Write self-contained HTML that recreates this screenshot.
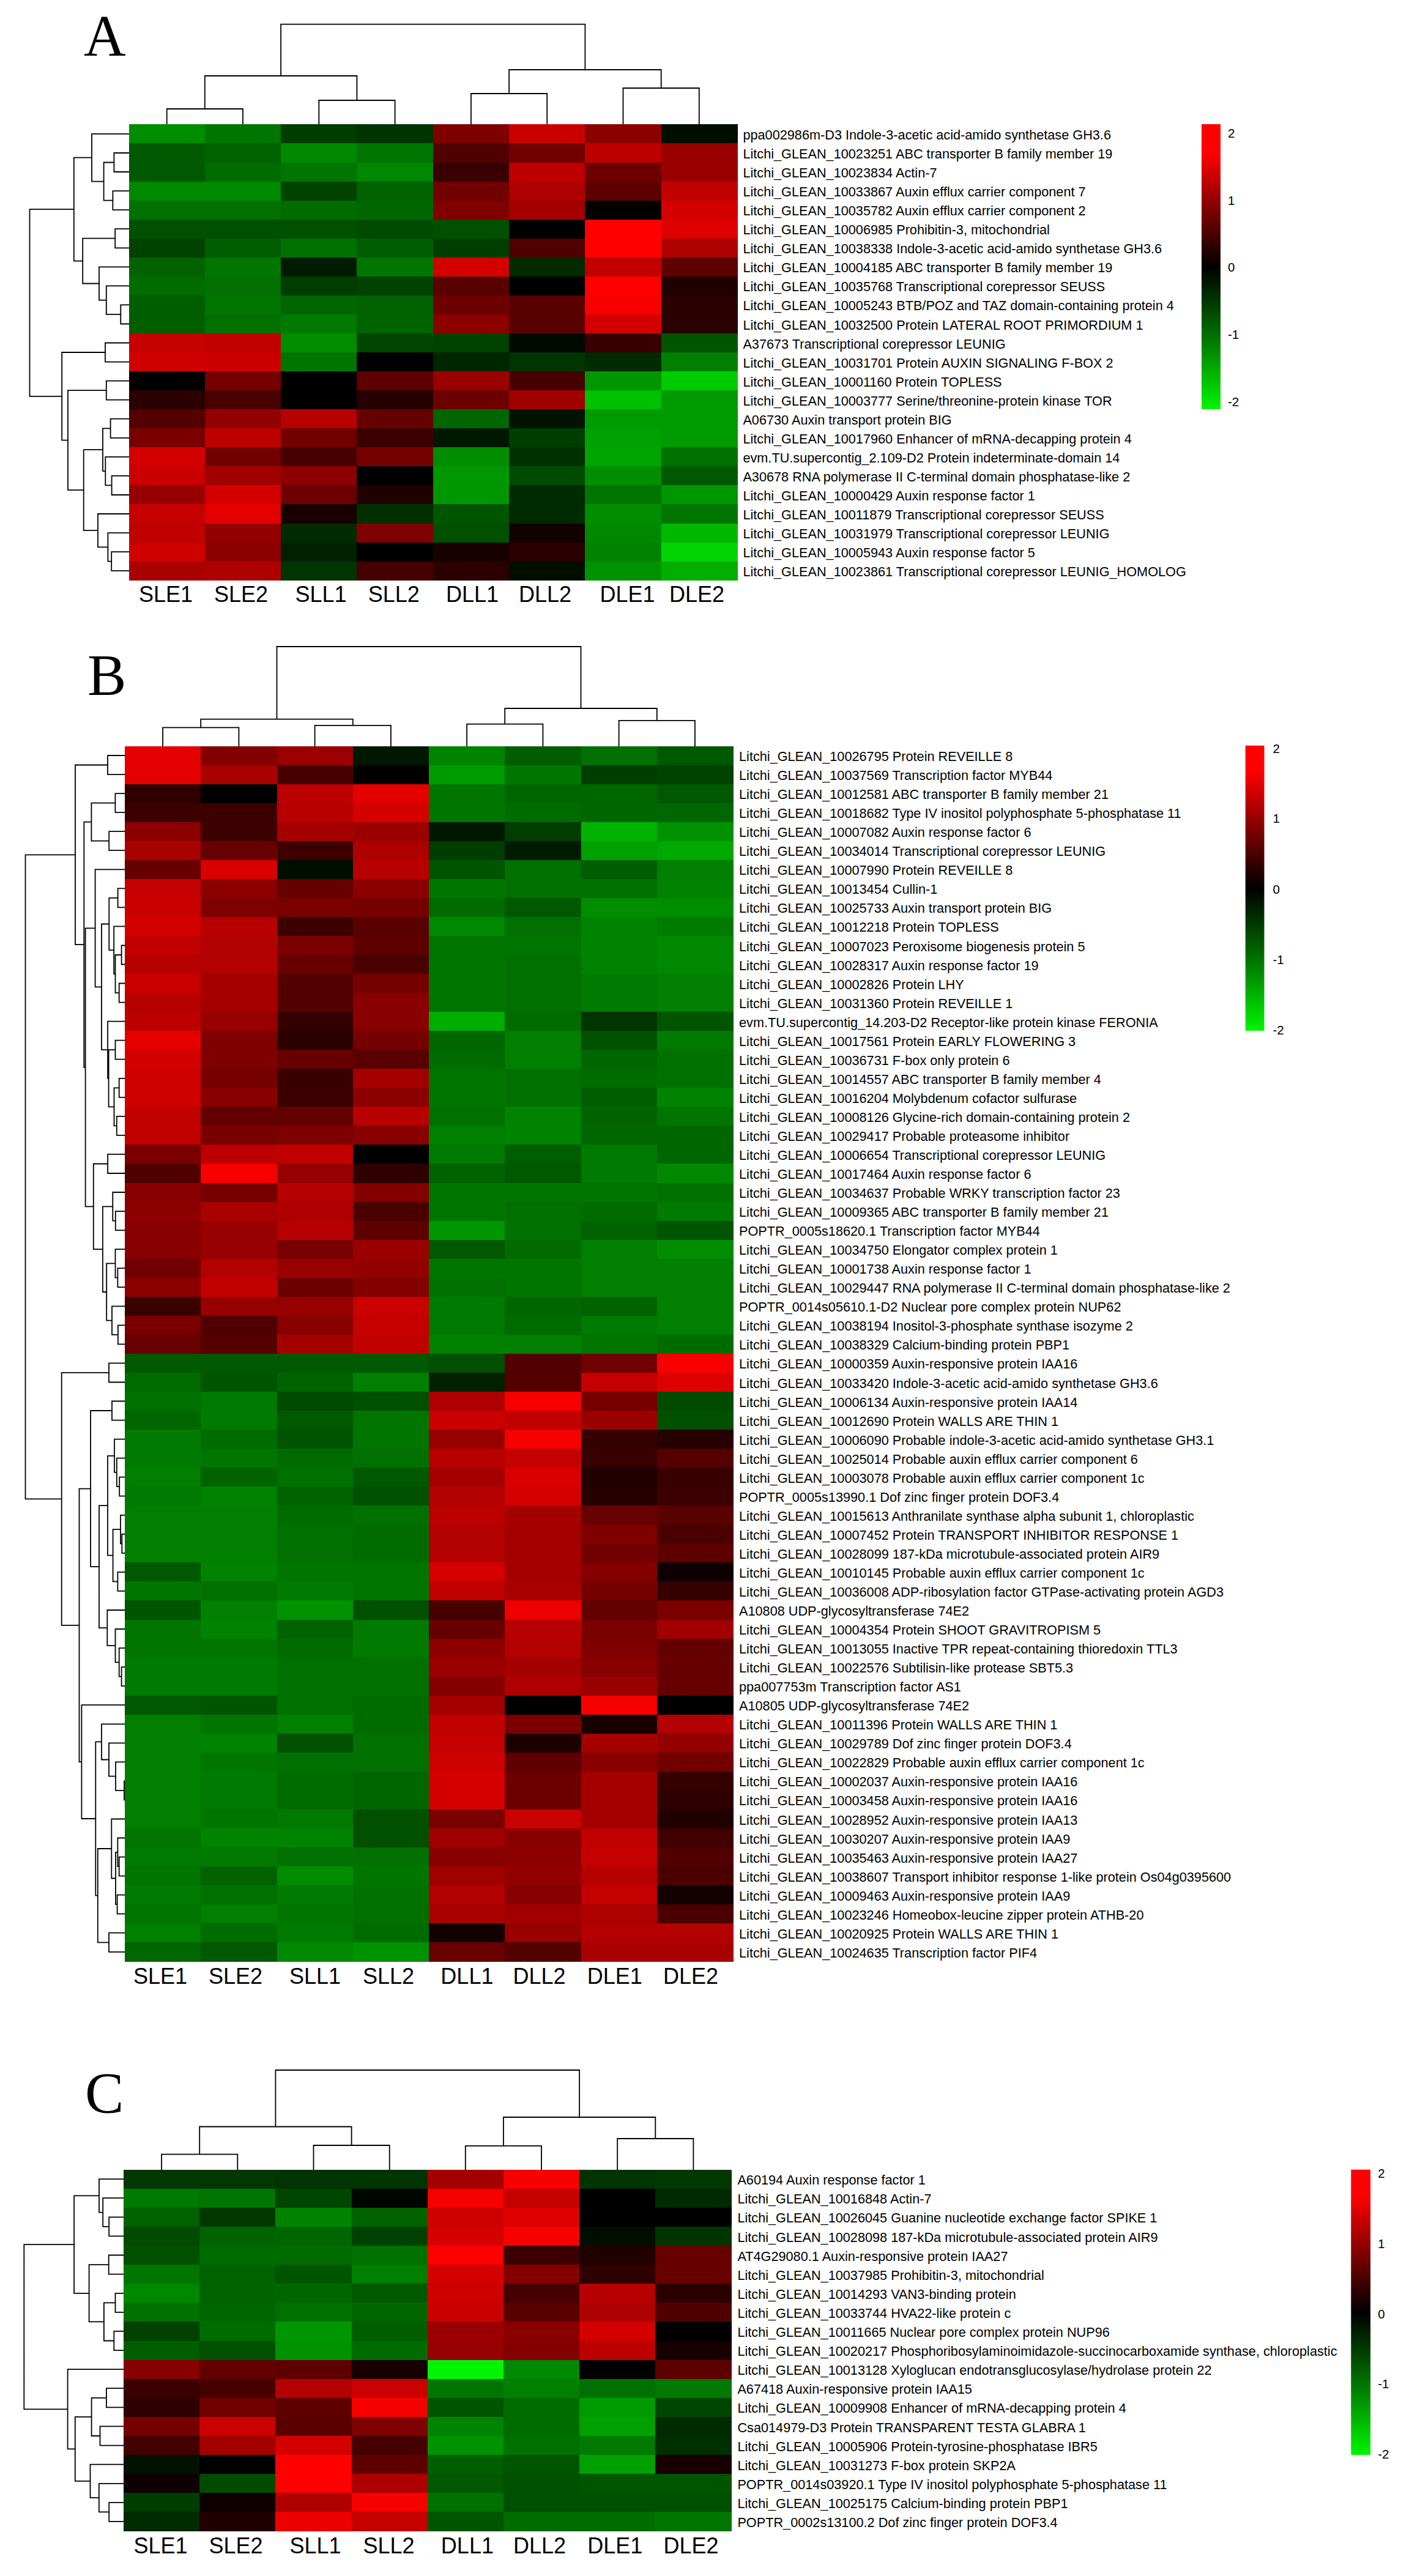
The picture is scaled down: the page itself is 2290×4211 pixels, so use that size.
<!DOCTYPE html>
<html><head><meta charset="utf-8"><title>Heatmaps</title>
<style>
html,body{margin:0;padding:0;background:#fff}
svg{display:block}
svg text{font-family:"Liberation Sans",Arial,sans-serif;fill:#000}
svg text.pl{font-family:"Liberation Serif","Times New Roman",serif}
</style></head><body>
<svg width="2290" height="4211" viewBox="0 0 2290 4211">
<rect width="2290" height="4211" fill="#fff"/>
<text x="137.0" y="91.0" class="pl" font-size="95">A</text>
<path d="M210.5 250.0H186.4V281.0H210.5M210.5 312.1H184.4V343.1H210.5M186.4 265.5H169.6V327.6H184.4M210.5 218.9H150.0V296.6H169.6M210.5 374.2H188.2V405.3H210.5M210.5 498.4H197.3V529.5H210.5M210.5 467.4H173.8V513.9H197.3M210.5 436.3H162.0V490.7H173.8M188.2 389.7H135.2V463.5H162.0M150.0 257.7H120.8V426.6H135.2M210.5 560.5H172.0V591.6H210.5M210.5 622.6H173.8V653.7H210.5M210.5 684.7H180.6V715.8H210.5M210.5 777.9H182.6V809.0H210.5M210.5 746.8H172.3V793.4H182.6M180.6 700.3H168.0V770.1H172.3M210.5 902.1H182.2V933.2H210.5M210.5 871.1H176.4V917.6H182.2M210.5 840.0H160.0V894.4H176.4M168.0 735.2H136.7V867.2H160.0M173.8 638.2H111.0V801.2H136.7M172.0 576.0H101.2V719.7H111.0M120.8 342.2H48.5V647.9H101.2" fill="none" stroke="#000" stroke-width="1.8" stroke-linejoin="miter" stroke-linecap="square"/>
<path d="M272.7 203.4V178.0H397.0V203.4M521.3 203.4V164.0H645.6V203.4M769.9 203.4V153.0H894.2V203.4M1018.5 203.4V144.0H1142.8V203.4M334.8 178.0V124.0H583.4V164.0M832.1 153.0V114.0H1080.7V144.0M459.1 124.0V39.7H956.4V114.0" fill="none" stroke="#000" stroke-width="1.8" stroke-linecap="square"/>
<g shape-rendering="crispEdges">
<rect x="210.50" y="203.40" width="124.91" height="31.65" fill="#008d00"/>
<rect x="334.81" y="203.40" width="124.91" height="31.65" fill="#007600"/>
<rect x="459.12" y="203.40" width="124.91" height="31.65" fill="#003d00"/>
<rect x="583.44" y="203.40" width="124.91" height="31.65" fill="#003400"/>
<rect x="707.75" y="203.40" width="124.91" height="31.65" fill="#7f0000"/>
<rect x="832.06" y="203.40" width="124.91" height="31.65" fill="#ca0000"/>
<rect x="956.38" y="203.40" width="124.91" height="31.65" fill="#8d0000"/>
<rect x="1080.69" y="203.40" width="124.91" height="31.65" fill="#000e00"/>
<rect x="210.50" y="234.45" width="124.91" height="31.65" fill="#005900"/>
<rect x="334.81" y="234.45" width="124.91" height="31.65" fill="#006300"/>
<rect x="459.12" y="234.45" width="124.91" height="31.65" fill="#008800"/>
<rect x="583.44" y="234.45" width="124.91" height="31.65" fill="#007600"/>
<rect x="707.75" y="234.45" width="124.91" height="31.65" fill="#500000"/>
<rect x="832.06" y="234.45" width="124.91" height="31.65" fill="#710000"/>
<rect x="956.38" y="234.45" width="124.91" height="31.65" fill="#bc0000"/>
<rect x="1080.69" y="234.45" width="124.91" height="31.65" fill="#9b0000"/>
<rect x="210.50" y="265.51" width="124.91" height="31.65" fill="#005900"/>
<rect x="334.81" y="265.51" width="124.91" height="31.65" fill="#006c00"/>
<rect x="459.12" y="265.51" width="124.91" height="31.65" fill="#007600"/>
<rect x="583.44" y="265.51" width="124.91" height="31.65" fill="#008800"/>
<rect x="707.75" y="265.51" width="124.91" height="31.65" fill="#380000"/>
<rect x="832.06" y="265.51" width="124.91" height="31.65" fill="#bc0000"/>
<rect x="956.38" y="265.51" width="124.91" height="31.65" fill="#6c0000"/>
<rect x="1080.69" y="265.51" width="124.91" height="31.65" fill="#9b0000"/>
<rect x="210.50" y="296.56" width="124.91" height="31.65" fill="#008800"/>
<rect x="334.81" y="296.56" width="124.91" height="31.65" fill="#008800"/>
<rect x="459.12" y="296.56" width="124.91" height="31.65" fill="#004200"/>
<rect x="583.44" y="296.56" width="124.91" height="31.65" fill="#006300"/>
<rect x="707.75" y="296.56" width="124.91" height="31.65" fill="#710000"/>
<rect x="832.06" y="296.56" width="124.91" height="31.65" fill="#ae0000"/>
<rect x="956.38" y="296.56" width="124.91" height="31.65" fill="#5e0000"/>
<rect x="1080.69" y="296.56" width="124.91" height="31.65" fill="#c10000"/>
<rect x="210.50" y="327.62" width="124.91" height="31.65" fill="#007100"/>
<rect x="334.81" y="327.62" width="124.91" height="31.65" fill="#007100"/>
<rect x="459.12" y="327.62" width="124.91" height="31.65" fill="#006c00"/>
<rect x="583.44" y="327.62" width="124.91" height="31.65" fill="#006700"/>
<rect x="707.75" y="327.62" width="124.91" height="31.65" fill="#7f0000"/>
<rect x="832.06" y="327.62" width="124.91" height="31.65" fill="#a40000"/>
<rect x="956.38" y="327.62" width="124.91" height="31.65" fill="#000000"/>
<rect x="1080.69" y="327.62" width="124.91" height="31.65" fill="#d40000"/>
<rect x="210.50" y="358.67" width="124.91" height="31.65" fill="#005000"/>
<rect x="334.81" y="358.67" width="124.91" height="31.65" fill="#005000"/>
<rect x="459.12" y="358.67" width="124.91" height="31.65" fill="#005000"/>
<rect x="583.44" y="358.67" width="124.91" height="31.65" fill="#004b00"/>
<rect x="707.75" y="358.67" width="124.91" height="31.65" fill="#005000"/>
<rect x="832.06" y="358.67" width="124.91" height="31.65" fill="#000000"/>
<rect x="956.38" y="358.67" width="124.91" height="31.65" fill="#ff0000"/>
<rect x="1080.69" y="358.67" width="124.91" height="31.65" fill="#dd0000"/>
<rect x="210.50" y="389.73" width="124.91" height="31.65" fill="#004200"/>
<rect x="334.81" y="389.73" width="124.91" height="31.65" fill="#005e00"/>
<rect x="459.12" y="389.73" width="124.91" height="31.65" fill="#007100"/>
<rect x="583.44" y="389.73" width="124.91" height="31.65" fill="#005e00"/>
<rect x="707.75" y="389.73" width="124.91" height="31.65" fill="#003d00"/>
<rect x="832.06" y="389.73" width="124.91" height="31.65" fill="#500000"/>
<rect x="956.38" y="389.73" width="124.91" height="31.65" fill="#ff0000"/>
<rect x="1080.69" y="389.73" width="124.91" height="31.65" fill="#ae0000"/>
<rect x="210.50" y="420.78" width="124.91" height="31.65" fill="#006300"/>
<rect x="334.81" y="420.78" width="124.91" height="31.65" fill="#007600"/>
<rect x="459.12" y="420.78" width="124.91" height="31.65" fill="#001c00"/>
<rect x="583.44" y="420.78" width="124.91" height="31.65" fill="#007600"/>
<rect x="707.75" y="420.78" width="124.91" height="31.65" fill="#d40000"/>
<rect x="832.06" y="420.78" width="124.91" height="31.65" fill="#002a00"/>
<rect x="956.38" y="420.78" width="124.91" height="31.65" fill="#c10000"/>
<rect x="1080.69" y="420.78" width="124.91" height="31.65" fill="#5e0000"/>
<rect x="210.50" y="451.83" width="124.91" height="31.65" fill="#006c00"/>
<rect x="334.81" y="451.83" width="124.91" height="31.65" fill="#007100"/>
<rect x="459.12" y="451.83" width="124.91" height="31.65" fill="#003d00"/>
<rect x="583.44" y="451.83" width="124.91" height="31.65" fill="#004200"/>
<rect x="707.75" y="451.83" width="124.91" height="31.65" fill="#590000"/>
<rect x="832.06" y="451.83" width="124.91" height="31.65" fill="#000000"/>
<rect x="956.38" y="451.83" width="124.91" height="31.65" fill="#ff0000"/>
<rect x="1080.69" y="451.83" width="124.91" height="31.65" fill="#210000"/>
<rect x="210.50" y="482.89" width="124.91" height="31.65" fill="#005e00"/>
<rect x="334.81" y="482.89" width="124.91" height="31.65" fill="#007600"/>
<rect x="459.12" y="482.89" width="124.91" height="31.65" fill="#006700"/>
<rect x="583.44" y="482.89" width="124.91" height="31.65" fill="#006300"/>
<rect x="707.75" y="482.89" width="124.91" height="31.65" fill="#6c0000"/>
<rect x="832.06" y="482.89" width="124.91" height="31.65" fill="#590000"/>
<rect x="956.38" y="482.89" width="124.91" height="31.65" fill="#f60000"/>
<rect x="1080.69" y="482.89" width="124.91" height="31.65" fill="#2a0000"/>
<rect x="210.50" y="513.94" width="124.91" height="31.65" fill="#005e00"/>
<rect x="334.81" y="513.94" width="124.91" height="31.65" fill="#007100"/>
<rect x="459.12" y="513.94" width="124.91" height="31.65" fill="#007a00"/>
<rect x="583.44" y="513.94" width="124.91" height="31.65" fill="#006300"/>
<rect x="707.75" y="513.94" width="124.91" height="31.65" fill="#8d0000"/>
<rect x="832.06" y="513.94" width="124.91" height="31.65" fill="#590000"/>
<rect x="956.38" y="513.94" width="124.91" height="31.65" fill="#d40000"/>
<rect x="1080.69" y="513.94" width="124.91" height="31.65" fill="#2a0000"/>
<rect x="210.50" y="545.00" width="124.91" height="31.65" fill="#c50000"/>
<rect x="334.81" y="545.00" width="124.91" height="31.65" fill="#c10000"/>
<rect x="459.12" y="545.00" width="124.91" height="31.65" fill="#008d00"/>
<rect x="583.44" y="545.00" width="124.91" height="31.65" fill="#004600"/>
<rect x="707.75" y="545.00" width="124.91" height="31.65" fill="#004200"/>
<rect x="832.06" y="545.00" width="124.91" height="31.65" fill="#000900"/>
<rect x="956.38" y="545.00" width="124.91" height="31.65" fill="#380000"/>
<rect x="1080.69" y="545.00" width="124.91" height="31.65" fill="#005500"/>
<rect x="210.50" y="576.05" width="124.91" height="31.65" fill="#cf0000"/>
<rect x="334.81" y="576.05" width="124.91" height="31.65" fill="#ca0000"/>
<rect x="459.12" y="576.05" width="124.91" height="31.65" fill="#007600"/>
<rect x="583.44" y="576.05" width="124.91" height="31.65" fill="#000000"/>
<rect x="707.75" y="576.05" width="124.91" height="31.65" fill="#002600"/>
<rect x="832.06" y="576.05" width="124.91" height="31.65" fill="#003400"/>
<rect x="956.38" y="576.05" width="124.91" height="31.65" fill="#002a00"/>
<rect x="1080.69" y="576.05" width="124.91" height="31.65" fill="#007f00"/>
<rect x="210.50" y="607.10" width="124.91" height="31.65" fill="#000000"/>
<rect x="334.81" y="607.10" width="124.91" height="31.65" fill="#760000"/>
<rect x="459.12" y="607.10" width="124.91" height="31.65" fill="#000000"/>
<rect x="583.44" y="607.10" width="124.91" height="31.65" fill="#5e0000"/>
<rect x="707.75" y="607.10" width="124.91" height="31.65" fill="#9b0000"/>
<rect x="832.06" y="607.10" width="124.91" height="31.65" fill="#460000"/>
<rect x="956.38" y="607.10" width="124.91" height="31.65" fill="#009600"/>
<rect x="1080.69" y="607.10" width="124.91" height="31.65" fill="#00ca00"/>
<rect x="210.50" y="638.16" width="124.91" height="31.65" fill="#2a0000"/>
<rect x="334.81" y="638.16" width="124.91" height="31.65" fill="#4b0000"/>
<rect x="459.12" y="638.16" width="124.91" height="31.65" fill="#000000"/>
<rect x="583.44" y="638.16" width="124.91" height="31.65" fill="#260000"/>
<rect x="707.75" y="638.16" width="124.91" height="31.65" fill="#6c0000"/>
<rect x="832.06" y="638.16" width="124.91" height="31.65" fill="#a00000"/>
<rect x="956.38" y="638.16" width="124.91" height="31.65" fill="#00c100"/>
<rect x="1080.69" y="638.16" width="124.91" height="31.65" fill="#009b00"/>
<rect x="210.50" y="669.21" width="124.91" height="31.65" fill="#550000"/>
<rect x="334.81" y="669.21" width="124.91" height="31.65" fill="#920000"/>
<rect x="459.12" y="669.21" width="124.91" height="31.65" fill="#b70000"/>
<rect x="583.44" y="669.21" width="124.91" height="31.65" fill="#670000"/>
<rect x="707.75" y="669.21" width="124.91" height="31.65" fill="#006700"/>
<rect x="832.06" y="669.21" width="124.91" height="31.65" fill="#001300"/>
<rect x="956.38" y="669.21" width="124.91" height="31.65" fill="#009b00"/>
<rect x="1080.69" y="669.21" width="124.91" height="31.65" fill="#009b00"/>
<rect x="210.50" y="700.27" width="124.91" height="31.65" fill="#7a0000"/>
<rect x="334.81" y="700.27" width="124.91" height="31.65" fill="#bc0000"/>
<rect x="459.12" y="700.27" width="124.91" height="31.65" fill="#710000"/>
<rect x="583.44" y="700.27" width="124.91" height="31.65" fill="#3d0000"/>
<rect x="707.75" y="700.27" width="124.91" height="31.65" fill="#001800"/>
<rect x="832.06" y="700.27" width="124.91" height="31.65" fill="#003d00"/>
<rect x="956.38" y="700.27" width="124.91" height="31.65" fill="#00a000"/>
<rect x="1080.69" y="700.27" width="124.91" height="31.65" fill="#009b00"/>
<rect x="210.50" y="731.32" width="124.91" height="31.65" fill="#d40000"/>
<rect x="334.81" y="731.32" width="124.91" height="31.65" fill="#710000"/>
<rect x="459.12" y="731.32" width="124.91" height="31.65" fill="#460000"/>
<rect x="583.44" y="731.32" width="124.91" height="31.65" fill="#760000"/>
<rect x="707.75" y="731.32" width="124.91" height="31.65" fill="#008d00"/>
<rect x="832.06" y="731.32" width="124.91" height="31.65" fill="#002f00"/>
<rect x="956.38" y="731.32" width="124.91" height="31.65" fill="#00a400"/>
<rect x="1080.69" y="731.32" width="124.91" height="31.65" fill="#007100"/>
<rect x="210.50" y="762.38" width="124.91" height="31.65" fill="#ca0000"/>
<rect x="334.81" y="762.38" width="124.91" height="31.65" fill="#a00000"/>
<rect x="459.12" y="762.38" width="124.91" height="31.65" fill="#8d0000"/>
<rect x="583.44" y="762.38" width="124.91" height="31.65" fill="#000000"/>
<rect x="707.75" y="762.38" width="124.91" height="31.65" fill="#009600"/>
<rect x="832.06" y="762.38" width="124.91" height="31.65" fill="#004b00"/>
<rect x="956.38" y="762.38" width="124.91" height="31.65" fill="#008d00"/>
<rect x="1080.69" y="762.38" width="124.91" height="31.65" fill="#005900"/>
<rect x="210.50" y="793.43" width="124.91" height="31.65" fill="#960000"/>
<rect x="334.81" y="793.43" width="124.91" height="31.65" fill="#d40000"/>
<rect x="459.12" y="793.43" width="124.91" height="31.65" fill="#6c0000"/>
<rect x="583.44" y="793.43" width="124.91" height="31.65" fill="#210000"/>
<rect x="707.75" y="793.43" width="124.91" height="31.65" fill="#009600"/>
<rect x="832.06" y="793.43" width="124.91" height="31.65" fill="#002a00"/>
<rect x="956.38" y="793.43" width="124.91" height="31.65" fill="#007600"/>
<rect x="1080.69" y="793.43" width="124.91" height="31.65" fill="#009600"/>
<rect x="210.50" y="824.48" width="124.91" height="31.65" fill="#c50000"/>
<rect x="334.81" y="824.48" width="124.91" height="31.65" fill="#e50000"/>
<rect x="459.12" y="824.48" width="124.91" height="31.65" fill="#180000"/>
<rect x="583.44" y="824.48" width="124.91" height="31.65" fill="#002f00"/>
<rect x="707.75" y="824.48" width="124.91" height="31.65" fill="#005500"/>
<rect x="832.06" y="824.48" width="124.91" height="31.65" fill="#002a00"/>
<rect x="956.38" y="824.48" width="124.91" height="31.65" fill="#008d00"/>
<rect x="1080.69" y="824.48" width="124.91" height="31.65" fill="#007600"/>
<rect x="210.50" y="855.54" width="124.91" height="31.65" fill="#c10000"/>
<rect x="334.81" y="855.54" width="124.91" height="31.65" fill="#920000"/>
<rect x="459.12" y="855.54" width="124.91" height="31.65" fill="#002a00"/>
<rect x="583.44" y="855.54" width="124.91" height="31.65" fill="#7f0000"/>
<rect x="707.75" y="855.54" width="124.91" height="31.65" fill="#005000"/>
<rect x="832.06" y="855.54" width="124.91" height="31.65" fill="#130000"/>
<rect x="956.38" y="855.54" width="124.91" height="31.65" fill="#008800"/>
<rect x="1080.69" y="855.54" width="124.91" height="31.65" fill="#00b700"/>
<rect x="210.50" y="886.59" width="124.91" height="31.65" fill="#cf0000"/>
<rect x="334.81" y="886.59" width="124.91" height="31.65" fill="#8d0000"/>
<rect x="459.12" y="886.59" width="124.91" height="31.65" fill="#002100"/>
<rect x="583.44" y="886.59" width="124.91" height="31.65" fill="#000000"/>
<rect x="707.75" y="886.59" width="124.91" height="31.65" fill="#180000"/>
<rect x="832.06" y="886.59" width="124.91" height="31.65" fill="#2a0000"/>
<rect x="956.38" y="886.59" width="124.91" height="31.65" fill="#008400"/>
<rect x="1080.69" y="886.59" width="124.91" height="31.65" fill="#00d400"/>
<rect x="210.50" y="917.65" width="124.91" height="31.65" fill="#a90000"/>
<rect x="334.81" y="917.65" width="124.91" height="31.65" fill="#ae0000"/>
<rect x="459.12" y="917.65" width="124.91" height="31.65" fill="#003400"/>
<rect x="583.44" y="917.65" width="124.91" height="31.65" fill="#460000"/>
<rect x="707.75" y="917.65" width="124.91" height="31.65" fill="#2a0000"/>
<rect x="832.06" y="917.65" width="124.91" height="31.65" fill="#000e00"/>
<rect x="956.38" y="917.65" width="124.91" height="31.65" fill="#009200"/>
<rect x="1080.69" y="917.65" width="124.91" height="31.65" fill="#00ae00"/>
</g>
<g font-size="21.7" class="rl">
<text x="1214.4" y="227.9">ppa002986m-D3 Indole-3-acetic acid-amido synthetase GH3.6</text>
<text x="1214.4" y="259.0">Litchi_GLEAN_10023251 ABC transporter B family member 19</text>
<text x="1214.4" y="290.0">Litchi_GLEAN_10023834 Actin-7</text>
<text x="1214.4" y="321.1">Litchi_GLEAN_10033867 Auxin efflux carrier component 7</text>
<text x="1214.4" y="352.1">Litchi_GLEAN_10035782 Auxin efflux carrier component 2</text>
<text x="1214.4" y="383.2">Litchi_GLEAN_10006985 Prohibitin-3, mitochondrial</text>
<text x="1214.4" y="414.3">Litchi_GLEAN_10038338 Indole-3-acetic acid-amido synthetase GH3.6</text>
<text x="1214.4" y="445.3">Litchi_GLEAN_10004185 ABC transporter B family member 19</text>
<text x="1214.4" y="476.4">Litchi_GLEAN_10035768 Transcriptional corepressor SEUSS</text>
<text x="1214.4" y="507.4">Litchi_GLEAN_10005243 BTB/POZ and TAZ domain-containing protein 4</text>
<text x="1214.4" y="538.5">Litchi_GLEAN_10032500 Protein LATERAL ROOT PRIMORDIUM 1</text>
<text x="1214.4" y="569.5">A37673 Transcriptional corepressor LEUNIG</text>
<text x="1214.4" y="600.6">Litchi_GLEAN_10031701 Protein AUXIN SIGNALING F-BOX 2</text>
<text x="1214.4" y="631.6">Litchi_GLEAN_10001160 Protein TOPLESS</text>
<text x="1214.4" y="662.7">Litchi_GLEAN_10003777 Serine/threonine-protein kinase TOR</text>
<text x="1214.4" y="693.7">A06730 Auxin transport protein BIG</text>
<text x="1214.4" y="724.8">Litchi_GLEAN_10017960 Enhancer of mRNA-decapping protein 4</text>
<text x="1214.4" y="755.9">evm.TU.supercontig_2.109-D2 Protein indeterminate-domain 14</text>
<text x="1214.4" y="786.9">A30678 RNA polymerase II C-terminal domain phosphatase-like 2</text>
<text x="1214.4" y="818.0">Litchi_GLEAN_10000429 Auxin response factor 1</text>
<text x="1214.4" y="849.0">Litchi_GLEAN_10011879 Transcriptional corepressor SEUSS</text>
<text x="1214.4" y="880.1">Litchi_GLEAN_10031979 Transcriptional corepressor LEUNIG</text>
<text x="1214.4" y="911.1">Litchi_GLEAN_10005943 Auxin response factor 5</text>
<text x="1214.4" y="942.2">Litchi_GLEAN_10023861 Transcriptional corepressor LEUNIG_HOMOLOG</text>
</g>
<g font-size="36" text-anchor="middle">
<text x="271.0" y="983.8">SLE1</text>
<text x="394.0" y="983.8">SLE2</text>
<text x="524.5" y="983.8">SLL1</text>
<text x="643.7" y="983.8">SLL2</text>
<text x="772.0" y="983.8">DLL1</text>
<text x="891.0" y="983.8">DLL2</text>
<text x="1025.6" y="983.8">DLE1</text>
<text x="1139.0" y="983.8">DLE2</text>
</g>
<defs><linearGradient id="cb1" x1="0" y1="0" x2="0" y2="1"><stop offset="0" stop-color="#ff0000"/><stop offset="0.1" stop-color="#ff0000"/><stop offset="0.5" stop-color="#000000"/><stop offset="0.75" stop-color="#007300"/><stop offset="1" stop-color="#00f500"/></linearGradient></defs>
<rect x="1964.0" y="203.0" width="31.0" height="466.0" fill="url(#cb1)"/>
<g font-size="20.5">
<text x="2007.0" y="225.3">2</text>
<text x="2007.0" y="335.3">1</text>
<text x="2007.0" y="444.3">0</text>
<text x="2007.0" y="554.3">-1</text>
<text x="2007.0" y="664.3">-2</text>
</g>
<text x="143.0" y="1135.6" class="pl" font-size="95">B</text>
<path d="M204.0 1235.0H176.0V1266.1H204.0M204.0 1297.1H188.4V1328.2H204.0M204.0 1359.2H178.2V1390.2H204.0M188.4 1312.6H149.4V1374.7H178.2M204.0 1452.3H192.6V1483.4H204.0M204.0 1545.5H198.6V1576.5H204.0M204.0 1607.5H194.7V1638.6H204.0M198.6 1561.0H188.5V1623.1H194.7M204.0 1514.4H186.2V1592.0H188.5M192.6 1467.8H178.3V1553.2H186.2M204.0 1700.7H188.5V1731.7H204.0M204.0 1762.8H194.7V1793.8H204.0M204.0 1824.9H190.8V1855.9H204.0M194.7 1778.3H186.5V1840.4H190.8M188.5 1716.2H177.6V1809.3H186.5M204.0 1669.6H176.1V1762.8H177.6M178.3 1510.5H166.0V1716.2H176.1M204.0 1421.3H155.6V1613.4H166.0M204.0 1886.9H176.1V1918.0H204.0M204.0 1980.1H188.8V2011.1H204.0M204.0 1949.0H184.3V1995.6H188.8M204.0 2073.2H192.4V2104.2H204.0M204.0 2042.2H188.5V2088.7H192.4M204.0 2166.3H192.9V2197.4H204.0M204.0 2135.3H183.0V2181.9H192.9M188.5 2065.4H174.2V2158.6H183.0M184.3 1972.3H167.9V2112.0H174.2M176.1 1902.5H152.8V2042.2H167.9M155.6 1517.3H139.6V1972.3H152.8M149.4 1343.7H137.3V1744.8H139.6M176.0 1250.5H123.0V1544.2H137.3M204.0 2228.4H178.0V2259.5H204.0M204.0 2290.5H183.0V2321.6H204.0M204.0 2414.7H195.2V2445.7H204.0M204.0 2383.6H190.8V2430.2H195.2M204.0 2352.6H187.0V2406.9H190.8M204.0 2507.8H199.3V2538.9H204.0M204.0 2476.8H197.0V2523.3H199.3M204.0 2569.9H192.4V2600.9H204.0M197.0 2500.1H184.6V2585.4H192.4M187.0 2379.8H176.0V2542.7H184.6M204.0 2725.1H198.6V2756.2H204.0M204.0 2694.1H194.7V2740.6H198.6M204.0 2663.0H188.5V2717.4H194.7M204.0 2632.0H175.3V2690.2H188.5M176.0 2461.2H162.0V2661.1H175.3M183.0 2306.0H148.1V2561.2H162.0M204.0 2911.4H203.0V2942.4H204.0M204.0 2880.3H189.0V2926.9H203.0M204.0 2849.3H178.0V2903.6H189.0M204.0 2818.3H166.0V2876.5H178.0M204.0 3035.6H194.7V3066.6H204.0M204.0 3004.5H192.4V3051.1H194.7M204.0 3097.6H191.6V3128.7H204.0M192.4 3027.8H189.0V3113.2H191.6M204.0 2973.5H182.3V3070.5H189.0M204.0 3159.7H178.0V3190.8H204.0M182.3 3022.0H159.8V3175.3H178.0M166.0 2847.4H156.3V3098.6H159.8M204.0 2787.2H133.4V2973.0H156.3M148.1 2433.6H129.5V2880.1H133.4M178.0 2243.9H100.7V2656.8H129.5M123.0 1397.4H41.5V2450.4H100.7" fill="none" stroke="#000" stroke-width="1.8" stroke-linejoin="miter" stroke-linecap="square"/>
<path d="M266.1 1219.5V1189.4H390.4V1219.5M514.6 1219.5V1185.8H638.9V1219.5M763.1 1219.5V1183.6H887.4V1219.5M1011.6 1219.5V1177.8H1135.9V1219.5M328.2 1189.4V1175.6H576.8V1185.8M825.2 1183.6V1158.0H1073.8V1177.8M452.5 1175.6V1057.0H949.5V1158.0" fill="none" stroke="#000" stroke-width="1.8" stroke-linecap="square"/>
<g shape-rendering="crispEdges">
<rect x="204.00" y="1219.50" width="124.85" height="31.64" fill="#e50000"/>
<rect x="328.25" y="1219.50" width="124.85" height="31.64" fill="#840000"/>
<rect x="452.50" y="1219.50" width="124.85" height="31.64" fill="#9b0000"/>
<rect x="576.75" y="1219.50" width="124.85" height="31.64" fill="#001800"/>
<rect x="701.00" y="1219.50" width="124.85" height="31.64" fill="#008400"/>
<rect x="825.25" y="1219.50" width="124.85" height="31.64" fill="#005e00"/>
<rect x="949.50" y="1219.50" width="124.85" height="31.64" fill="#007100"/>
<rect x="1073.75" y="1219.50" width="124.85" height="31.64" fill="#005900"/>
<rect x="204.00" y="1250.54" width="124.85" height="31.64" fill="#e50000"/>
<rect x="328.25" y="1250.54" width="124.85" height="31.64" fill="#a90000"/>
<rect x="452.50" y="1250.54" width="124.85" height="31.64" fill="#460000"/>
<rect x="576.75" y="1250.54" width="124.85" height="31.64" fill="#000000"/>
<rect x="701.00" y="1250.54" width="124.85" height="31.64" fill="#009b00"/>
<rect x="825.25" y="1250.54" width="124.85" height="31.64" fill="#007600"/>
<rect x="949.50" y="1250.54" width="124.85" height="31.64" fill="#003d00"/>
<rect x="1073.75" y="1250.54" width="124.85" height="31.64" fill="#004200"/>
<rect x="204.00" y="1281.59" width="124.85" height="31.64" fill="#2f0000"/>
<rect x="328.25" y="1281.59" width="124.85" height="31.64" fill="#000000"/>
<rect x="452.50" y="1281.59" width="124.85" height="31.64" fill="#bc0000"/>
<rect x="576.75" y="1281.59" width="124.85" height="31.64" fill="#e50000"/>
<rect x="701.00" y="1281.59" width="124.85" height="31.64" fill="#007600"/>
<rect x="825.25" y="1281.59" width="124.85" height="31.64" fill="#006700"/>
<rect x="949.50" y="1281.59" width="124.85" height="31.64" fill="#006700"/>
<rect x="1073.75" y="1281.59" width="124.85" height="31.64" fill="#005900"/>
<rect x="204.00" y="1312.63" width="124.85" height="31.64" fill="#3d0000"/>
<rect x="328.25" y="1312.63" width="124.85" height="31.64" fill="#3d0000"/>
<rect x="452.50" y="1312.63" width="124.85" height="31.64" fill="#b70000"/>
<rect x="576.75" y="1312.63" width="124.85" height="31.64" fill="#d40000"/>
<rect x="701.00" y="1312.63" width="124.85" height="31.64" fill="#007600"/>
<rect x="825.25" y="1312.63" width="124.85" height="31.64" fill="#006c00"/>
<rect x="949.50" y="1312.63" width="124.85" height="31.64" fill="#006700"/>
<rect x="1073.75" y="1312.63" width="124.85" height="31.64" fill="#006700"/>
<rect x="204.00" y="1343.67" width="124.85" height="31.64" fill="#8d0000"/>
<rect x="328.25" y="1343.67" width="124.85" height="31.64" fill="#3d0000"/>
<rect x="452.50" y="1343.67" width="124.85" height="31.64" fill="#a40000"/>
<rect x="576.75" y="1343.67" width="124.85" height="31.64" fill="#9b0000"/>
<rect x="701.00" y="1343.67" width="124.85" height="31.64" fill="#001800"/>
<rect x="825.25" y="1343.67" width="124.85" height="31.64" fill="#003d00"/>
<rect x="949.50" y="1343.67" width="124.85" height="31.64" fill="#00b300"/>
<rect x="1073.75" y="1343.67" width="124.85" height="31.64" fill="#009200"/>
<rect x="204.00" y="1374.72" width="124.85" height="31.64" fill="#a90000"/>
<rect x="328.25" y="1374.72" width="124.85" height="31.64" fill="#670000"/>
<rect x="452.50" y="1374.72" width="124.85" height="31.64" fill="#3d0000"/>
<rect x="576.75" y="1374.72" width="124.85" height="31.64" fill="#ae0000"/>
<rect x="701.00" y="1374.72" width="124.85" height="31.64" fill="#003d00"/>
<rect x="825.25" y="1374.72" width="124.85" height="31.64" fill="#001c00"/>
<rect x="949.50" y="1374.72" width="124.85" height="31.64" fill="#00a000"/>
<rect x="1073.75" y="1374.72" width="124.85" height="31.64" fill="#00a900"/>
<rect x="204.00" y="1405.76" width="124.85" height="31.64" fill="#670000"/>
<rect x="328.25" y="1405.76" width="124.85" height="31.64" fill="#d80000"/>
<rect x="452.50" y="1405.76" width="124.85" height="31.64" fill="#000e00"/>
<rect x="576.75" y="1405.76" width="124.85" height="31.64" fill="#b70000"/>
<rect x="701.00" y="1405.76" width="124.85" height="31.64" fill="#005500"/>
<rect x="825.25" y="1405.76" width="124.85" height="31.64" fill="#007100"/>
<rect x="949.50" y="1405.76" width="124.85" height="31.64" fill="#005e00"/>
<rect x="1073.75" y="1405.76" width="124.85" height="31.64" fill="#007f00"/>
<rect x="204.00" y="1436.81" width="124.85" height="31.64" fill="#c50000"/>
<rect x="328.25" y="1436.81" width="124.85" height="31.64" fill="#8d0000"/>
<rect x="452.50" y="1436.81" width="124.85" height="31.64" fill="#670000"/>
<rect x="576.75" y="1436.81" width="124.85" height="31.64" fill="#8d0000"/>
<rect x="701.00" y="1436.81" width="124.85" height="31.64" fill="#007600"/>
<rect x="825.25" y="1436.81" width="124.85" height="31.64" fill="#007100"/>
<rect x="949.50" y="1436.81" width="124.85" height="31.64" fill="#007100"/>
<rect x="1073.75" y="1436.81" width="124.85" height="31.64" fill="#008400"/>
<rect x="204.00" y="1467.85" width="124.85" height="31.64" fill="#ca0000"/>
<rect x="328.25" y="1467.85" width="124.85" height="31.64" fill="#7f0000"/>
<rect x="452.50" y="1467.85" width="124.85" height="31.64" fill="#7a0000"/>
<rect x="576.75" y="1467.85" width="124.85" height="31.64" fill="#760000"/>
<rect x="701.00" y="1467.85" width="124.85" height="31.64" fill="#006c00"/>
<rect x="825.25" y="1467.85" width="124.85" height="31.64" fill="#005900"/>
<rect x="949.50" y="1467.85" width="124.85" height="31.64" fill="#008d00"/>
<rect x="1073.75" y="1467.85" width="124.85" height="31.64" fill="#008d00"/>
<rect x="204.00" y="1498.89" width="124.85" height="31.64" fill="#d40000"/>
<rect x="328.25" y="1498.89" width="124.85" height="31.64" fill="#b70000"/>
<rect x="452.50" y="1498.89" width="124.85" height="31.64" fill="#3d0000"/>
<rect x="576.75" y="1498.89" width="124.85" height="31.64" fill="#590000"/>
<rect x="701.00" y="1498.89" width="124.85" height="31.64" fill="#008800"/>
<rect x="825.25" y="1498.89" width="124.85" height="31.64" fill="#007100"/>
<rect x="949.50" y="1498.89" width="124.85" height="31.64" fill="#008400"/>
<rect x="1073.75" y="1498.89" width="124.85" height="31.64" fill="#007a00"/>
<rect x="204.00" y="1529.94" width="124.85" height="31.64" fill="#c10000"/>
<rect x="328.25" y="1529.94" width="124.85" height="31.64" fill="#b30000"/>
<rect x="452.50" y="1529.94" width="124.85" height="31.64" fill="#7a0000"/>
<rect x="576.75" y="1529.94" width="124.85" height="31.64" fill="#5e0000"/>
<rect x="701.00" y="1529.94" width="124.85" height="31.64" fill="#007600"/>
<rect x="825.25" y="1529.94" width="124.85" height="31.64" fill="#007600"/>
<rect x="949.50" y="1529.94" width="124.85" height="31.64" fill="#008400"/>
<rect x="1073.75" y="1529.94" width="124.85" height="31.64" fill="#008800"/>
<rect x="204.00" y="1560.98" width="124.85" height="31.64" fill="#b70000"/>
<rect x="328.25" y="1560.98" width="124.85" height="31.64" fill="#b30000"/>
<rect x="452.50" y="1560.98" width="124.85" height="31.64" fill="#670000"/>
<rect x="576.75" y="1560.98" width="124.85" height="31.64" fill="#4b0000"/>
<rect x="701.00" y="1560.98" width="124.85" height="31.64" fill="#007600"/>
<rect x="825.25" y="1560.98" width="124.85" height="31.64" fill="#007100"/>
<rect x="949.50" y="1560.98" width="124.85" height="31.64" fill="#008400"/>
<rect x="1073.75" y="1560.98" width="124.85" height="31.64" fill="#008800"/>
<rect x="204.00" y="1592.03" width="124.85" height="31.64" fill="#ca0000"/>
<rect x="328.25" y="1592.03" width="124.85" height="31.64" fill="#a40000"/>
<rect x="452.50" y="1592.03" width="124.85" height="31.64" fill="#550000"/>
<rect x="576.75" y="1592.03" width="124.85" height="31.64" fill="#760000"/>
<rect x="701.00" y="1592.03" width="124.85" height="31.64" fill="#007600"/>
<rect x="825.25" y="1592.03" width="124.85" height="31.64" fill="#007100"/>
<rect x="949.50" y="1592.03" width="124.85" height="31.64" fill="#007a00"/>
<rect x="1073.75" y="1592.03" width="124.85" height="31.64" fill="#007f00"/>
<rect x="204.00" y="1623.07" width="124.85" height="31.64" fill="#b70000"/>
<rect x="328.25" y="1623.07" width="124.85" height="31.64" fill="#a40000"/>
<rect x="452.50" y="1623.07" width="124.85" height="31.64" fill="#550000"/>
<rect x="576.75" y="1623.07" width="124.85" height="31.64" fill="#880000"/>
<rect x="701.00" y="1623.07" width="124.85" height="31.64" fill="#007600"/>
<rect x="825.25" y="1623.07" width="124.85" height="31.64" fill="#007100"/>
<rect x="949.50" y="1623.07" width="124.85" height="31.64" fill="#007a00"/>
<rect x="1073.75" y="1623.07" width="124.85" height="31.64" fill="#007f00"/>
<rect x="204.00" y="1654.11" width="124.85" height="31.64" fill="#bc0000"/>
<rect x="328.25" y="1654.11" width="124.85" height="31.64" fill="#960000"/>
<rect x="452.50" y="1654.11" width="124.85" height="31.64" fill="#340000"/>
<rect x="576.75" y="1654.11" width="124.85" height="31.64" fill="#880000"/>
<rect x="701.00" y="1654.11" width="124.85" height="31.64" fill="#00ae00"/>
<rect x="825.25" y="1654.11" width="124.85" height="31.64" fill="#006c00"/>
<rect x="949.50" y="1654.11" width="124.85" height="31.64" fill="#003400"/>
<rect x="1073.75" y="1654.11" width="124.85" height="31.64" fill="#005500"/>
<rect x="204.00" y="1685.16" width="124.85" height="31.64" fill="#e50000"/>
<rect x="328.25" y="1685.16" width="124.85" height="31.64" fill="#7f0000"/>
<rect x="452.50" y="1685.16" width="124.85" height="31.64" fill="#2a0000"/>
<rect x="576.75" y="1685.16" width="124.85" height="31.64" fill="#760000"/>
<rect x="701.00" y="1685.16" width="124.85" height="31.64" fill="#006700"/>
<rect x="825.25" y="1685.16" width="124.85" height="31.64" fill="#007f00"/>
<rect x="949.50" y="1685.16" width="124.85" height="31.64" fill="#005000"/>
<rect x="1073.75" y="1685.16" width="124.85" height="31.64" fill="#007a00"/>
<rect x="204.00" y="1716.20" width="124.85" height="31.64" fill="#d40000"/>
<rect x="328.25" y="1716.20" width="124.85" height="31.64" fill="#7f0000"/>
<rect x="452.50" y="1716.20" width="124.85" height="31.64" fill="#670000"/>
<rect x="576.75" y="1716.20" width="124.85" height="31.64" fill="#590000"/>
<rect x="701.00" y="1716.20" width="124.85" height="31.64" fill="#006c00"/>
<rect x="825.25" y="1716.20" width="124.85" height="31.64" fill="#007f00"/>
<rect x="949.50" y="1716.20" width="124.85" height="31.64" fill="#006700"/>
<rect x="1073.75" y="1716.20" width="124.85" height="31.64" fill="#007100"/>
<rect x="204.00" y="1747.24" width="124.85" height="31.64" fill="#cf0000"/>
<rect x="328.25" y="1747.24" width="124.85" height="31.64" fill="#760000"/>
<rect x="452.50" y="1747.24" width="124.85" height="31.64" fill="#380000"/>
<rect x="576.75" y="1747.24" width="124.85" height="31.64" fill="#a40000"/>
<rect x="701.00" y="1747.24" width="124.85" height="31.64" fill="#007600"/>
<rect x="825.25" y="1747.24" width="124.85" height="31.64" fill="#007100"/>
<rect x="949.50" y="1747.24" width="124.85" height="31.64" fill="#006c00"/>
<rect x="1073.75" y="1747.24" width="124.85" height="31.64" fill="#007100"/>
<rect x="204.00" y="1778.29" width="124.85" height="31.64" fill="#cf0000"/>
<rect x="328.25" y="1778.29" width="124.85" height="31.64" fill="#880000"/>
<rect x="452.50" y="1778.29" width="124.85" height="31.64" fill="#3d0000"/>
<rect x="576.75" y="1778.29" width="124.85" height="31.64" fill="#8d0000"/>
<rect x="701.00" y="1778.29" width="124.85" height="31.64" fill="#007600"/>
<rect x="825.25" y="1778.29" width="124.85" height="31.64" fill="#007100"/>
<rect x="949.50" y="1778.29" width="124.85" height="31.64" fill="#005e00"/>
<rect x="1073.75" y="1778.29" width="124.85" height="31.64" fill="#008400"/>
<rect x="204.00" y="1809.33" width="124.85" height="31.64" fill="#c10000"/>
<rect x="328.25" y="1809.33" width="124.85" height="31.64" fill="#630000"/>
<rect x="452.50" y="1809.33" width="124.85" height="31.64" fill="#630000"/>
<rect x="576.75" y="1809.33" width="124.85" height="31.64" fill="#b70000"/>
<rect x="701.00" y="1809.33" width="124.85" height="31.64" fill="#007100"/>
<rect x="825.25" y="1809.33" width="124.85" height="31.64" fill="#008400"/>
<rect x="949.50" y="1809.33" width="124.85" height="31.64" fill="#006300"/>
<rect x="1073.75" y="1809.33" width="124.85" height="31.64" fill="#007600"/>
<rect x="204.00" y="1840.38" width="124.85" height="31.64" fill="#c10000"/>
<rect x="328.25" y="1840.38" width="124.85" height="31.64" fill="#7a0000"/>
<rect x="452.50" y="1840.38" width="124.85" height="31.64" fill="#7f0000"/>
<rect x="576.75" y="1840.38" width="124.85" height="31.64" fill="#880000"/>
<rect x="701.00" y="1840.38" width="124.85" height="31.64" fill="#007f00"/>
<rect x="825.25" y="1840.38" width="124.85" height="31.64" fill="#008400"/>
<rect x="949.50" y="1840.38" width="124.85" height="31.64" fill="#006700"/>
<rect x="1073.75" y="1840.38" width="124.85" height="31.64" fill="#006700"/>
<rect x="204.00" y="1871.42" width="124.85" height="31.64" fill="#7a0000"/>
<rect x="328.25" y="1871.42" width="124.85" height="31.64" fill="#bc0000"/>
<rect x="452.50" y="1871.42" width="124.85" height="31.64" fill="#c10000"/>
<rect x="576.75" y="1871.42" width="124.85" height="31.64" fill="#000000"/>
<rect x="701.00" y="1871.42" width="124.85" height="31.64" fill="#007a00"/>
<rect x="825.25" y="1871.42" width="124.85" height="31.64" fill="#005e00"/>
<rect x="949.50" y="1871.42" width="124.85" height="31.64" fill="#007a00"/>
<rect x="1073.75" y="1871.42" width="124.85" height="31.64" fill="#006700"/>
<rect x="204.00" y="1902.46" width="124.85" height="31.64" fill="#500000"/>
<rect x="328.25" y="1902.46" width="124.85" height="31.64" fill="#f60000"/>
<rect x="452.50" y="1902.46" width="124.85" height="31.64" fill="#960000"/>
<rect x="576.75" y="1902.46" width="124.85" height="31.64" fill="#2f0000"/>
<rect x="701.00" y="1902.46" width="124.85" height="31.64" fill="#006300"/>
<rect x="825.25" y="1902.46" width="124.85" height="31.64" fill="#005900"/>
<rect x="949.50" y="1902.46" width="124.85" height="31.64" fill="#007a00"/>
<rect x="1073.75" y="1902.46" width="124.85" height="31.64" fill="#008800"/>
<rect x="204.00" y="1933.51" width="124.85" height="31.64" fill="#880000"/>
<rect x="328.25" y="1933.51" width="124.85" height="31.64" fill="#760000"/>
<rect x="452.50" y="1933.51" width="124.85" height="31.64" fill="#b70000"/>
<rect x="576.75" y="1933.51" width="124.85" height="31.64" fill="#840000"/>
<rect x="701.00" y="1933.51" width="124.85" height="31.64" fill="#007600"/>
<rect x="825.25" y="1933.51" width="124.85" height="31.64" fill="#007600"/>
<rect x="949.50" y="1933.51" width="124.85" height="31.64" fill="#007600"/>
<rect x="1073.75" y="1933.51" width="124.85" height="31.64" fill="#007100"/>
<rect x="204.00" y="1964.55" width="124.85" height="31.64" fill="#8d0000"/>
<rect x="328.25" y="1964.55" width="124.85" height="31.64" fill="#a90000"/>
<rect x="452.50" y="1964.55" width="124.85" height="31.64" fill="#ae0000"/>
<rect x="576.75" y="1964.55" width="124.85" height="31.64" fill="#4b0000"/>
<rect x="701.00" y="1964.55" width="124.85" height="31.64" fill="#007600"/>
<rect x="825.25" y="1964.55" width="124.85" height="31.64" fill="#007100"/>
<rect x="949.50" y="1964.55" width="124.85" height="31.64" fill="#006c00"/>
<rect x="1073.75" y="1964.55" width="124.85" height="31.64" fill="#007a00"/>
<rect x="204.00" y="1995.59" width="124.85" height="31.64" fill="#880000"/>
<rect x="328.25" y="1995.59" width="124.85" height="31.64" fill="#960000"/>
<rect x="452.50" y="1995.59" width="124.85" height="31.64" fill="#b70000"/>
<rect x="576.75" y="1995.59" width="124.85" height="31.64" fill="#5e0000"/>
<rect x="701.00" y="1995.59" width="124.85" height="31.64" fill="#009600"/>
<rect x="825.25" y="1995.59" width="124.85" height="31.64" fill="#007100"/>
<rect x="949.50" y="1995.59" width="124.85" height="31.64" fill="#006300"/>
<rect x="1073.75" y="1995.59" width="124.85" height="31.64" fill="#005500"/>
<rect x="204.00" y="2026.64" width="124.85" height="31.64" fill="#880000"/>
<rect x="328.25" y="2026.64" width="124.85" height="31.64" fill="#960000"/>
<rect x="452.50" y="2026.64" width="124.85" height="31.64" fill="#7a0000"/>
<rect x="576.75" y="2026.64" width="124.85" height="31.64" fill="#9b0000"/>
<rect x="701.00" y="2026.64" width="124.85" height="31.64" fill="#005900"/>
<rect x="825.25" y="2026.64" width="124.85" height="31.64" fill="#006c00"/>
<rect x="949.50" y="2026.64" width="124.85" height="31.64" fill="#007f00"/>
<rect x="1073.75" y="2026.64" width="124.85" height="31.64" fill="#008d00"/>
<rect x="204.00" y="2057.68" width="124.85" height="31.64" fill="#710000"/>
<rect x="328.25" y="2057.68" width="124.85" height="31.64" fill="#b30000"/>
<rect x="452.50" y="2057.68" width="124.85" height="31.64" fill="#9b0000"/>
<rect x="576.75" y="2057.68" width="124.85" height="31.64" fill="#920000"/>
<rect x="701.00" y="2057.68" width="124.85" height="31.64" fill="#007600"/>
<rect x="825.25" y="2057.68" width="124.85" height="31.64" fill="#007600"/>
<rect x="949.50" y="2057.68" width="124.85" height="31.64" fill="#007f00"/>
<rect x="1073.75" y="2057.68" width="124.85" height="31.64" fill="#007f00"/>
<rect x="204.00" y="2088.73" width="124.85" height="31.64" fill="#8d0000"/>
<rect x="328.25" y="2088.73" width="124.85" height="31.64" fill="#c10000"/>
<rect x="452.50" y="2088.73" width="124.85" height="31.64" fill="#6c0000"/>
<rect x="576.75" y="2088.73" width="124.85" height="31.64" fill="#840000"/>
<rect x="701.00" y="2088.73" width="124.85" height="31.64" fill="#007100"/>
<rect x="825.25" y="2088.73" width="124.85" height="31.64" fill="#007600"/>
<rect x="949.50" y="2088.73" width="124.85" height="31.64" fill="#007f00"/>
<rect x="1073.75" y="2088.73" width="124.85" height="31.64" fill="#007f00"/>
<rect x="204.00" y="2119.77" width="124.85" height="31.64" fill="#380000"/>
<rect x="328.25" y="2119.77" width="124.85" height="31.64" fill="#960000"/>
<rect x="452.50" y="2119.77" width="124.85" height="31.64" fill="#960000"/>
<rect x="576.75" y="2119.77" width="124.85" height="31.64" fill="#ca0000"/>
<rect x="701.00" y="2119.77" width="124.85" height="31.64" fill="#007a00"/>
<rect x="825.25" y="2119.77" width="124.85" height="31.64" fill="#006700"/>
<rect x="949.50" y="2119.77" width="124.85" height="31.64" fill="#006300"/>
<rect x="1073.75" y="2119.77" width="124.85" height="31.64" fill="#007f00"/>
<rect x="204.00" y="2150.81" width="124.85" height="31.64" fill="#7a0000"/>
<rect x="328.25" y="2150.81" width="124.85" height="31.64" fill="#500000"/>
<rect x="452.50" y="2150.81" width="124.85" height="31.64" fill="#880000"/>
<rect x="576.75" y="2150.81" width="124.85" height="31.64" fill="#c50000"/>
<rect x="701.00" y="2150.81" width="124.85" height="31.64" fill="#007a00"/>
<rect x="825.25" y="2150.81" width="124.85" height="31.64" fill="#006c00"/>
<rect x="949.50" y="2150.81" width="124.85" height="31.64" fill="#007a00"/>
<rect x="1073.75" y="2150.81" width="124.85" height="31.64" fill="#007f00"/>
<rect x="204.00" y="2181.86" width="124.85" height="31.64" fill="#670000"/>
<rect x="328.25" y="2181.86" width="124.85" height="31.64" fill="#550000"/>
<rect x="452.50" y="2181.86" width="124.85" height="31.64" fill="#a40000"/>
<rect x="576.75" y="2181.86" width="124.85" height="31.64" fill="#c10000"/>
<rect x="701.00" y="2181.86" width="124.85" height="31.64" fill="#007f00"/>
<rect x="825.25" y="2181.86" width="124.85" height="31.64" fill="#007f00"/>
<rect x="949.50" y="2181.86" width="124.85" height="31.64" fill="#007600"/>
<rect x="1073.75" y="2181.86" width="124.85" height="31.64" fill="#006c00"/>
<rect x="204.00" y="2212.90" width="124.85" height="31.64" fill="#005900"/>
<rect x="328.25" y="2212.90" width="124.85" height="31.64" fill="#005900"/>
<rect x="452.50" y="2212.90" width="124.85" height="31.64" fill="#005900"/>
<rect x="576.75" y="2212.90" width="124.85" height="31.64" fill="#005900"/>
<rect x="701.00" y="2212.90" width="124.85" height="31.64" fill="#005000"/>
<rect x="825.25" y="2212.90" width="124.85" height="31.64" fill="#550000"/>
<rect x="949.50" y="2212.90" width="124.85" height="31.64" fill="#710000"/>
<rect x="1073.75" y="2212.90" width="124.85" height="31.64" fill="#f60000"/>
<rect x="204.00" y="2243.94" width="124.85" height="31.64" fill="#006c00"/>
<rect x="328.25" y="2243.94" width="124.85" height="31.64" fill="#005500"/>
<rect x="452.50" y="2243.94" width="124.85" height="31.64" fill="#006300"/>
<rect x="576.75" y="2243.94" width="124.85" height="31.64" fill="#007f00"/>
<rect x="701.00" y="2243.94" width="124.85" height="31.64" fill="#002100"/>
<rect x="825.25" y="2243.94" width="124.85" height="31.64" fill="#550000"/>
<rect x="949.50" y="2243.94" width="124.85" height="31.64" fill="#c50000"/>
<rect x="1073.75" y="2243.94" width="124.85" height="31.64" fill="#dd0000"/>
<rect x="204.00" y="2274.99" width="124.85" height="31.64" fill="#007100"/>
<rect x="328.25" y="2274.99" width="124.85" height="31.64" fill="#007a00"/>
<rect x="452.50" y="2274.99" width="124.85" height="31.64" fill="#004b00"/>
<rect x="576.75" y="2274.99" width="124.85" height="31.64" fill="#005000"/>
<rect x="701.00" y="2274.99" width="124.85" height="31.64" fill="#ae0000"/>
<rect x="825.25" y="2274.99" width="124.85" height="31.64" fill="#f60000"/>
<rect x="949.50" y="2274.99" width="124.85" height="31.64" fill="#760000"/>
<rect x="1073.75" y="2274.99" width="124.85" height="31.64" fill="#004b00"/>
<rect x="204.00" y="2306.03" width="124.85" height="31.64" fill="#006700"/>
<rect x="328.25" y="2306.03" width="124.85" height="31.64" fill="#007a00"/>
<rect x="452.50" y="2306.03" width="124.85" height="31.64" fill="#005900"/>
<rect x="576.75" y="2306.03" width="124.85" height="31.64" fill="#007600"/>
<rect x="701.00" y="2306.03" width="124.85" height="31.64" fill="#ca0000"/>
<rect x="825.25" y="2306.03" width="124.85" height="31.64" fill="#c10000"/>
<rect x="949.50" y="2306.03" width="124.85" height="31.64" fill="#9b0000"/>
<rect x="1073.75" y="2306.03" width="124.85" height="31.64" fill="#005000"/>
<rect x="204.00" y="2337.07" width="124.85" height="31.64" fill="#007a00"/>
<rect x="328.25" y="2337.07" width="124.85" height="31.64" fill="#006c00"/>
<rect x="452.50" y="2337.07" width="124.85" height="31.64" fill="#005500"/>
<rect x="576.75" y="2337.07" width="124.85" height="31.64" fill="#007600"/>
<rect x="701.00" y="2337.07" width="124.85" height="31.64" fill="#960000"/>
<rect x="825.25" y="2337.07" width="124.85" height="31.64" fill="#f60000"/>
<rect x="949.50" y="2337.07" width="124.85" height="31.64" fill="#340000"/>
<rect x="1073.75" y="2337.07" width="124.85" height="31.64" fill="#260000"/>
<rect x="204.00" y="2368.12" width="124.85" height="31.64" fill="#007a00"/>
<rect x="328.25" y="2368.12" width="124.85" height="31.64" fill="#007600"/>
<rect x="452.50" y="2368.12" width="124.85" height="31.64" fill="#006c00"/>
<rect x="576.75" y="2368.12" width="124.85" height="31.64" fill="#007100"/>
<rect x="701.00" y="2368.12" width="124.85" height="31.64" fill="#b70000"/>
<rect x="825.25" y="2368.12" width="124.85" height="31.64" fill="#c50000"/>
<rect x="949.50" y="2368.12" width="124.85" height="31.64" fill="#380000"/>
<rect x="1073.75" y="2368.12" width="124.85" height="31.64" fill="#550000"/>
<rect x="204.00" y="2399.16" width="124.85" height="31.64" fill="#007f00"/>
<rect x="328.25" y="2399.16" width="124.85" height="31.64" fill="#006300"/>
<rect x="452.50" y="2399.16" width="124.85" height="31.64" fill="#007100"/>
<rect x="576.75" y="2399.16" width="124.85" height="31.64" fill="#005900"/>
<rect x="701.00" y="2399.16" width="124.85" height="31.64" fill="#a40000"/>
<rect x="825.25" y="2399.16" width="124.85" height="31.64" fill="#d80000"/>
<rect x="949.50" y="2399.16" width="124.85" height="31.64" fill="#210000"/>
<rect x="1073.75" y="2399.16" width="124.85" height="31.64" fill="#380000"/>
<rect x="204.00" y="2430.21" width="124.85" height="31.64" fill="#007a00"/>
<rect x="328.25" y="2430.21" width="124.85" height="31.64" fill="#008400"/>
<rect x="452.50" y="2430.21" width="124.85" height="31.64" fill="#006300"/>
<rect x="576.75" y="2430.21" width="124.85" height="31.64" fill="#005000"/>
<rect x="701.00" y="2430.21" width="124.85" height="31.64" fill="#b30000"/>
<rect x="825.25" y="2430.21" width="124.85" height="31.64" fill="#d40000"/>
<rect x="949.50" y="2430.21" width="124.85" height="31.64" fill="#260000"/>
<rect x="1073.75" y="2430.21" width="124.85" height="31.64" fill="#3d0000"/>
<rect x="204.00" y="2461.25" width="124.85" height="31.64" fill="#007f00"/>
<rect x="328.25" y="2461.25" width="124.85" height="31.64" fill="#007f00"/>
<rect x="452.50" y="2461.25" width="124.85" height="31.64" fill="#006c00"/>
<rect x="576.75" y="2461.25" width="124.85" height="31.64" fill="#007100"/>
<rect x="701.00" y="2461.25" width="124.85" height="31.64" fill="#bc0000"/>
<rect x="825.25" y="2461.25" width="124.85" height="31.64" fill="#a40000"/>
<rect x="949.50" y="2461.25" width="124.85" height="31.64" fill="#670000"/>
<rect x="1073.75" y="2461.25" width="124.85" height="31.64" fill="#590000"/>
<rect x="204.00" y="2492.29" width="124.85" height="31.64" fill="#007f00"/>
<rect x="328.25" y="2492.29" width="124.85" height="31.64" fill="#007f00"/>
<rect x="452.50" y="2492.29" width="124.85" height="31.64" fill="#007100"/>
<rect x="576.75" y="2492.29" width="124.85" height="31.64" fill="#006c00"/>
<rect x="701.00" y="2492.29" width="124.85" height="31.64" fill="#b30000"/>
<rect x="825.25" y="2492.29" width="124.85" height="31.64" fill="#a40000"/>
<rect x="949.50" y="2492.29" width="124.85" height="31.64" fill="#7f0000"/>
<rect x="1073.75" y="2492.29" width="124.85" height="31.64" fill="#4b0000"/>
<rect x="204.00" y="2523.34" width="124.85" height="31.64" fill="#007f00"/>
<rect x="328.25" y="2523.34" width="124.85" height="31.64" fill="#007f00"/>
<rect x="452.50" y="2523.34" width="124.85" height="31.64" fill="#007100"/>
<rect x="576.75" y="2523.34" width="124.85" height="31.64" fill="#006c00"/>
<rect x="701.00" y="2523.34" width="124.85" height="31.64" fill="#b30000"/>
<rect x="825.25" y="2523.34" width="124.85" height="31.64" fill="#a40000"/>
<rect x="949.50" y="2523.34" width="124.85" height="31.64" fill="#710000"/>
<rect x="1073.75" y="2523.34" width="124.85" height="31.64" fill="#5e0000"/>
<rect x="204.00" y="2554.38" width="124.85" height="31.64" fill="#005900"/>
<rect x="328.25" y="2554.38" width="124.85" height="31.64" fill="#008400"/>
<rect x="452.50" y="2554.38" width="124.85" height="31.64" fill="#007600"/>
<rect x="576.75" y="2554.38" width="124.85" height="31.64" fill="#007600"/>
<rect x="701.00" y="2554.38" width="124.85" height="31.64" fill="#d40000"/>
<rect x="825.25" y="2554.38" width="124.85" height="31.64" fill="#a40000"/>
<rect x="949.50" y="2554.38" width="124.85" height="31.64" fill="#840000"/>
<rect x="1073.75" y="2554.38" width="124.85" height="31.64" fill="#0e0000"/>
<rect x="204.00" y="2585.43" width="124.85" height="31.64" fill="#007600"/>
<rect x="328.25" y="2585.43" width="124.85" height="31.64" fill="#007100"/>
<rect x="452.50" y="2585.43" width="124.85" height="31.64" fill="#007a00"/>
<rect x="576.75" y="2585.43" width="124.85" height="31.64" fill="#007600"/>
<rect x="701.00" y="2585.43" width="124.85" height="31.64" fill="#c10000"/>
<rect x="825.25" y="2585.43" width="124.85" height="31.64" fill="#a90000"/>
<rect x="949.50" y="2585.43" width="124.85" height="31.64" fill="#760000"/>
<rect x="1073.75" y="2585.43" width="124.85" height="31.64" fill="#340000"/>
<rect x="204.00" y="2616.47" width="124.85" height="31.64" fill="#005500"/>
<rect x="328.25" y="2616.47" width="124.85" height="31.64" fill="#007f00"/>
<rect x="452.50" y="2616.47" width="124.85" height="31.64" fill="#009200"/>
<rect x="576.75" y="2616.47" width="124.85" height="31.64" fill="#005000"/>
<rect x="701.00" y="2616.47" width="124.85" height="31.64" fill="#460000"/>
<rect x="825.25" y="2616.47" width="124.85" height="31.64" fill="#ee0000"/>
<rect x="949.50" y="2616.47" width="124.85" height="31.64" fill="#630000"/>
<rect x="1073.75" y="2616.47" width="124.85" height="31.64" fill="#7a0000"/>
<rect x="204.00" y="2647.51" width="124.85" height="31.64" fill="#007600"/>
<rect x="328.25" y="2647.51" width="124.85" height="31.64" fill="#008400"/>
<rect x="452.50" y="2647.51" width="124.85" height="31.64" fill="#006300"/>
<rect x="576.75" y="2647.51" width="124.85" height="31.64" fill="#007a00"/>
<rect x="701.00" y="2647.51" width="124.85" height="31.64" fill="#670000"/>
<rect x="825.25" y="2647.51" width="124.85" height="31.64" fill="#b70000"/>
<rect x="949.50" y="2647.51" width="124.85" height="31.64" fill="#7a0000"/>
<rect x="1073.75" y="2647.51" width="124.85" height="31.64" fill="#a00000"/>
<rect x="204.00" y="2678.56" width="124.85" height="31.64" fill="#007600"/>
<rect x="328.25" y="2678.56" width="124.85" height="31.64" fill="#007600"/>
<rect x="452.50" y="2678.56" width="124.85" height="31.64" fill="#006c00"/>
<rect x="576.75" y="2678.56" width="124.85" height="31.64" fill="#007a00"/>
<rect x="701.00" y="2678.56" width="124.85" height="31.64" fill="#8d0000"/>
<rect x="825.25" y="2678.56" width="124.85" height="31.64" fill="#b30000"/>
<rect x="949.50" y="2678.56" width="124.85" height="31.64" fill="#7f0000"/>
<rect x="1073.75" y="2678.56" width="124.85" height="31.64" fill="#630000"/>
<rect x="204.00" y="2709.60" width="124.85" height="31.64" fill="#007a00"/>
<rect x="328.25" y="2709.60" width="124.85" height="31.64" fill="#007a00"/>
<rect x="452.50" y="2709.60" width="124.85" height="31.64" fill="#007100"/>
<rect x="576.75" y="2709.60" width="124.85" height="31.64" fill="#007100"/>
<rect x="701.00" y="2709.60" width="124.85" height="31.64" fill="#9b0000"/>
<rect x="825.25" y="2709.60" width="124.85" height="31.64" fill="#a40000"/>
<rect x="949.50" y="2709.60" width="124.85" height="31.64" fill="#880000"/>
<rect x="1073.75" y="2709.60" width="124.85" height="31.64" fill="#670000"/>
<rect x="204.00" y="2740.64" width="124.85" height="31.64" fill="#007a00"/>
<rect x="328.25" y="2740.64" width="124.85" height="31.64" fill="#007a00"/>
<rect x="452.50" y="2740.64" width="124.85" height="31.64" fill="#007100"/>
<rect x="576.75" y="2740.64" width="124.85" height="31.64" fill="#007100"/>
<rect x="701.00" y="2740.64" width="124.85" height="31.64" fill="#840000"/>
<rect x="825.25" y="2740.64" width="124.85" height="31.64" fill="#ae0000"/>
<rect x="949.50" y="2740.64" width="124.85" height="31.64" fill="#9b0000"/>
<rect x="1073.75" y="2740.64" width="124.85" height="31.64" fill="#670000"/>
<rect x="204.00" y="2771.69" width="124.85" height="31.64" fill="#005900"/>
<rect x="328.25" y="2771.69" width="124.85" height="31.64" fill="#005500"/>
<rect x="452.50" y="2771.69" width="124.85" height="31.64" fill="#007100"/>
<rect x="576.75" y="2771.69" width="124.85" height="31.64" fill="#006c00"/>
<rect x="701.00" y="2771.69" width="124.85" height="31.64" fill="#a40000"/>
<rect x="825.25" y="2771.69" width="124.85" height="31.64" fill="#000000"/>
<rect x="949.50" y="2771.69" width="124.85" height="31.64" fill="#f60000"/>
<rect x="1073.75" y="2771.69" width="124.85" height="31.64" fill="#000000"/>
<rect x="204.00" y="2802.73" width="124.85" height="31.64" fill="#007f00"/>
<rect x="328.25" y="2802.73" width="124.85" height="31.64" fill="#007600"/>
<rect x="452.50" y="2802.73" width="124.85" height="31.64" fill="#007f00"/>
<rect x="576.75" y="2802.73" width="124.85" height="31.64" fill="#006c00"/>
<rect x="701.00" y="2802.73" width="124.85" height="31.64" fill="#c10000"/>
<rect x="825.25" y="2802.73" width="124.85" height="31.64" fill="#7a0000"/>
<rect x="949.50" y="2802.73" width="124.85" height="31.64" fill="#180000"/>
<rect x="1073.75" y="2802.73" width="124.85" height="31.64" fill="#b30000"/>
<rect x="204.00" y="2833.78" width="124.85" height="31.64" fill="#007f00"/>
<rect x="328.25" y="2833.78" width="124.85" height="31.64" fill="#008400"/>
<rect x="452.50" y="2833.78" width="124.85" height="31.64" fill="#005000"/>
<rect x="576.75" y="2833.78" width="124.85" height="31.64" fill="#007100"/>
<rect x="701.00" y="2833.78" width="124.85" height="31.64" fill="#c50000"/>
<rect x="825.25" y="2833.78" width="124.85" height="31.64" fill="#1c0000"/>
<rect x="949.50" y="2833.78" width="124.85" height="31.64" fill="#a40000"/>
<rect x="1073.75" y="2833.78" width="124.85" height="31.64" fill="#920000"/>
<rect x="204.00" y="2864.82" width="124.85" height="31.64" fill="#007f00"/>
<rect x="328.25" y="2864.82" width="124.85" height="31.64" fill="#007600"/>
<rect x="452.50" y="2864.82" width="124.85" height="31.64" fill="#007100"/>
<rect x="576.75" y="2864.82" width="124.85" height="31.64" fill="#007100"/>
<rect x="701.00" y="2864.82" width="124.85" height="31.64" fill="#cf0000"/>
<rect x="825.25" y="2864.82" width="124.85" height="31.64" fill="#5e0000"/>
<rect x="949.50" y="2864.82" width="124.85" height="31.64" fill="#880000"/>
<rect x="1073.75" y="2864.82" width="124.85" height="31.64" fill="#710000"/>
<rect x="204.00" y="2895.86" width="124.85" height="31.64" fill="#007f00"/>
<rect x="328.25" y="2895.86" width="124.85" height="31.64" fill="#007a00"/>
<rect x="452.50" y="2895.86" width="124.85" height="31.64" fill="#006c00"/>
<rect x="576.75" y="2895.86" width="124.85" height="31.64" fill="#006700"/>
<rect x="701.00" y="2895.86" width="124.85" height="31.64" fill="#d40000"/>
<rect x="825.25" y="2895.86" width="124.85" height="31.64" fill="#6c0000"/>
<rect x="949.50" y="2895.86" width="124.85" height="31.64" fill="#a40000"/>
<rect x="1073.75" y="2895.86" width="124.85" height="31.64" fill="#340000"/>
<rect x="204.00" y="2926.91" width="124.85" height="31.64" fill="#007f00"/>
<rect x="328.25" y="2926.91" width="124.85" height="31.64" fill="#007a00"/>
<rect x="452.50" y="2926.91" width="124.85" height="31.64" fill="#006c00"/>
<rect x="576.75" y="2926.91" width="124.85" height="31.64" fill="#006700"/>
<rect x="701.00" y="2926.91" width="124.85" height="31.64" fill="#d40000"/>
<rect x="825.25" y="2926.91" width="124.85" height="31.64" fill="#6c0000"/>
<rect x="949.50" y="2926.91" width="124.85" height="31.64" fill="#a40000"/>
<rect x="1073.75" y="2926.91" width="124.85" height="31.64" fill="#2f0000"/>
<rect x="204.00" y="2957.95" width="124.85" height="31.64" fill="#007f00"/>
<rect x="328.25" y="2957.95" width="124.85" height="31.64" fill="#007600"/>
<rect x="452.50" y="2957.95" width="124.85" height="31.64" fill="#007a00"/>
<rect x="576.75" y="2957.95" width="124.85" height="31.64" fill="#005000"/>
<rect x="701.00" y="2957.95" width="124.85" height="31.64" fill="#7a0000"/>
<rect x="825.25" y="2957.95" width="124.85" height="31.64" fill="#ca0000"/>
<rect x="949.50" y="2957.95" width="124.85" height="31.64" fill="#a40000"/>
<rect x="1073.75" y="2957.95" width="124.85" height="31.64" fill="#210000"/>
<rect x="204.00" y="2988.99" width="124.85" height="31.64" fill="#007600"/>
<rect x="328.25" y="2988.99" width="124.85" height="31.64" fill="#008400"/>
<rect x="452.50" y="2988.99" width="124.85" height="31.64" fill="#008400"/>
<rect x="576.75" y="2988.99" width="124.85" height="31.64" fill="#005000"/>
<rect x="701.00" y="2988.99" width="124.85" height="31.64" fill="#a00000"/>
<rect x="825.25" y="2988.99" width="124.85" height="31.64" fill="#880000"/>
<rect x="949.50" y="2988.99" width="124.85" height="31.64" fill="#c10000"/>
<rect x="1073.75" y="2988.99" width="124.85" height="31.64" fill="#420000"/>
<rect x="204.00" y="3020.04" width="124.85" height="31.64" fill="#007a00"/>
<rect x="328.25" y="3020.04" width="124.85" height="31.64" fill="#007a00"/>
<rect x="452.50" y="3020.04" width="124.85" height="31.64" fill="#007100"/>
<rect x="576.75" y="3020.04" width="124.85" height="31.64" fill="#007100"/>
<rect x="701.00" y="3020.04" width="124.85" height="31.64" fill="#880000"/>
<rect x="825.25" y="3020.04" width="124.85" height="31.64" fill="#8d0000"/>
<rect x="949.50" y="3020.04" width="124.85" height="31.64" fill="#c50000"/>
<rect x="1073.75" y="3020.04" width="124.85" height="31.64" fill="#500000"/>
<rect x="204.00" y="3051.08" width="124.85" height="31.64" fill="#007600"/>
<rect x="328.25" y="3051.08" width="124.85" height="31.64" fill="#006300"/>
<rect x="452.50" y="3051.08" width="124.85" height="31.64" fill="#008d00"/>
<rect x="576.75" y="3051.08" width="124.85" height="31.64" fill="#007600"/>
<rect x="701.00" y="3051.08" width="124.85" height="31.64" fill="#a00000"/>
<rect x="825.25" y="3051.08" width="124.85" height="31.64" fill="#920000"/>
<rect x="949.50" y="3051.08" width="124.85" height="31.64" fill="#b70000"/>
<rect x="1073.75" y="3051.08" width="124.85" height="31.64" fill="#4b0000"/>
<rect x="204.00" y="3082.12" width="124.85" height="31.64" fill="#007a00"/>
<rect x="328.25" y="3082.12" width="124.85" height="31.64" fill="#007100"/>
<rect x="452.50" y="3082.12" width="124.85" height="31.64" fill="#007a00"/>
<rect x="576.75" y="3082.12" width="124.85" height="31.64" fill="#007100"/>
<rect x="701.00" y="3082.12" width="124.85" height="31.64" fill="#b30000"/>
<rect x="825.25" y="3082.12" width="124.85" height="31.64" fill="#880000"/>
<rect x="949.50" y="3082.12" width="124.85" height="31.64" fill="#c50000"/>
<rect x="1073.75" y="3082.12" width="124.85" height="31.64" fill="#130000"/>
<rect x="204.00" y="3113.17" width="124.85" height="31.64" fill="#007600"/>
<rect x="328.25" y="3113.17" width="124.85" height="31.64" fill="#007f00"/>
<rect x="452.50" y="3113.17" width="124.85" height="31.64" fill="#007600"/>
<rect x="576.75" y="3113.17" width="124.85" height="31.64" fill="#007100"/>
<rect x="701.00" y="3113.17" width="124.85" height="31.64" fill="#a90000"/>
<rect x="825.25" y="3113.17" width="124.85" height="31.64" fill="#a00000"/>
<rect x="949.50" y="3113.17" width="124.85" height="31.64" fill="#ae0000"/>
<rect x="1073.75" y="3113.17" width="124.85" height="31.64" fill="#4b0000"/>
<rect x="204.00" y="3144.21" width="124.85" height="31.64" fill="#007f00"/>
<rect x="328.25" y="3144.21" width="124.85" height="31.64" fill="#006c00"/>
<rect x="452.50" y="3144.21" width="124.85" height="31.64" fill="#007a00"/>
<rect x="576.75" y="3144.21" width="124.85" height="31.64" fill="#006c00"/>
<rect x="701.00" y="3144.21" width="124.85" height="31.64" fill="#130000"/>
<rect x="825.25" y="3144.21" width="124.85" height="31.64" fill="#960000"/>
<rect x="949.50" y="3144.21" width="124.85" height="31.64" fill="#b30000"/>
<rect x="1073.75" y="3144.21" width="124.85" height="31.64" fill="#b30000"/>
<rect x="204.00" y="3175.26" width="124.85" height="31.64" fill="#006700"/>
<rect x="328.25" y="3175.26" width="124.85" height="31.64" fill="#005900"/>
<rect x="452.50" y="3175.26" width="124.85" height="31.64" fill="#008800"/>
<rect x="576.75" y="3175.26" width="124.85" height="31.64" fill="#009200"/>
<rect x="701.00" y="3175.26" width="124.85" height="31.64" fill="#670000"/>
<rect x="825.25" y="3175.26" width="124.85" height="31.64" fill="#550000"/>
<rect x="949.50" y="3175.26" width="124.85" height="31.64" fill="#a90000"/>
<rect x="1073.75" y="3175.26" width="124.85" height="31.64" fill="#a90000"/>
</g>
<g font-size="21.7" class="rl">
<text x="1208.0" y="1244.0">Litchi_GLEAN_10026795 Protein REVEILLE 8</text>
<text x="1208.0" y="1275.1">Litchi_GLEAN_10037569 Transcription factor MYB44</text>
<text x="1208.0" y="1306.1">Litchi_GLEAN_10012581 ABC transporter B family member 21</text>
<text x="1208.0" y="1337.2">Litchi_GLEAN_10018682 Type IV inositol polyphosphate 5-phosphatase 11</text>
<text x="1208.0" y="1368.2">Litchi_GLEAN_10007082 Auxin response factor 6</text>
<text x="1208.0" y="1399.2">Litchi_GLEAN_10034014 Transcriptional corepressor LEUNIG</text>
<text x="1208.0" y="1430.3">Litchi_GLEAN_10007990 Protein REVEILLE 8</text>
<text x="1208.0" y="1461.3">Litchi_GLEAN_10013454 Cullin-1</text>
<text x="1208.0" y="1492.4">Litchi_GLEAN_10025733 Auxin transport protein BIG</text>
<text x="1208.0" y="1523.4">Litchi_GLEAN_10012218 Protein TOPLESS</text>
<text x="1208.0" y="1554.5">Litchi_GLEAN_10007023 Peroxisome biogenesis protein 5</text>
<text x="1208.0" y="1585.5">Litchi_GLEAN_10028317 Auxin response factor 19</text>
<text x="1208.0" y="1616.6">Litchi_GLEAN_10002826 Protein LHY</text>
<text x="1208.0" y="1647.6">Litchi_GLEAN_10031360 Protein REVEILLE 1</text>
<text x="1208.0" y="1678.6">evm.TU.supercontig_14.203-D2 Receptor-like protein kinase FERONIA</text>
<text x="1208.0" y="1709.7">Litchi_GLEAN_10017561 Protein EARLY FLOWERING 3</text>
<text x="1208.0" y="1740.7">Litchi_GLEAN_10036731 F-box only protein 6</text>
<text x="1208.0" y="1771.8">Litchi_GLEAN_10014557 ABC transporter B family member 4</text>
<text x="1208.0" y="1802.8">Litchi_GLEAN_10016204 Molybdenum cofactor sulfurase</text>
<text x="1208.0" y="1833.9">Litchi_GLEAN_10008126 Glycine-rich domain-containing protein 2</text>
<text x="1208.0" y="1864.9">Litchi_GLEAN_10029417 Probable proteasome inhibitor</text>
<text x="1208.0" y="1895.9">Litchi_GLEAN_10006654 Transcriptional corepressor LEUNIG</text>
<text x="1208.0" y="1927.0">Litchi_GLEAN_10017464 Auxin response factor 6</text>
<text x="1208.0" y="1958.0">Litchi_GLEAN_10034637 Probable WRKY transcription factor 23</text>
<text x="1208.0" y="1989.1">Litchi_GLEAN_10009365 ABC transporter B family member 21</text>
<text x="1208.0" y="2020.1">POPTR_0005s18620.1 Transcription factor MYB44</text>
<text x="1208.0" y="2051.2">Litchi_GLEAN_10034750 Elongator complex protein 1</text>
<text x="1208.0" y="2082.2">Litchi_GLEAN_10001738 Auxin response factor 1</text>
<text x="1208.0" y="2113.3">Litchi_GLEAN_10029447 RNA polymerase II C-terminal domain phosphatase-like 2</text>
<text x="1208.0" y="2144.3">POPTR_0014s05610.1-D2 Nuclear pore complex protein NUP62</text>
<text x="1208.0" y="2175.3">Litchi_GLEAN_10038194 Inositol-3-phosphate synthase isozyme 2</text>
<text x="1208.0" y="2206.4">Litchi_GLEAN_10038329 Calcium-binding protein PBP1</text>
<text x="1208.0" y="2237.4">Litchi_GLEAN_10000359 Auxin-responsive protein IAA16</text>
<text x="1208.0" y="2268.5">Litchi_GLEAN_10033420 Indole-3-acetic acid-amido synthetase GH3.6</text>
<text x="1208.0" y="2299.5">Litchi_GLEAN_10006134 Auxin-responsive protein IAA14</text>
<text x="1208.0" y="2330.6">Litchi_GLEAN_10012690 Protein WALLS ARE THIN 1</text>
<text x="1208.0" y="2361.6">Litchi_GLEAN_10006090 Probable indole-3-acetic acid-amido synthetase GH3.1</text>
<text x="1208.0" y="2392.6">Litchi_GLEAN_10025014 Probable auxin efflux carrier component 6</text>
<text x="1208.0" y="2423.7">Litchi_GLEAN_10003078 Probable auxin efflux carrier component 1c</text>
<text x="1208.0" y="2454.7">POPTR_0005s13990.1 Dof zinc finger protein DOF3.4</text>
<text x="1208.0" y="2485.8">Litchi_GLEAN_10015613 Anthranilate synthase alpha subunit 1, chloroplastic</text>
<text x="1208.0" y="2516.8">Litchi_GLEAN_10007452 Protein TRANSPORT INHIBITOR RESPONSE 1</text>
<text x="1208.0" y="2547.9">Litchi_GLEAN_10028099 187-kDa microtubule-associated protein AIR9</text>
<text x="1208.0" y="2578.9">Litchi_GLEAN_10010145 Probable auxin efflux carrier component 1c</text>
<text x="1208.0" y="2610.0">Litchi_GLEAN_10036008 ADP-ribosylation factor GTPase-activating protein AGD3</text>
<text x="1208.0" y="2641.0">A10808 UDP-glycosyltransferase 74E2</text>
<text x="1208.0" y="2672.0">Litchi_GLEAN_10004354 Protein SHOOT GRAVITROPISM 5</text>
<text x="1208.0" y="2703.1">Litchi_GLEAN_10013055 Inactive TPR repeat-containing thioredoxin TTL3</text>
<text x="1208.0" y="2734.1">Litchi_GLEAN_10022576 Subtilisin-like protease SBT5.3</text>
<text x="1208.0" y="2765.2">ppa007753m Transcription factor AS1</text>
<text x="1208.0" y="2796.2">A10805 UDP-glycosyltransferase 74E2</text>
<text x="1208.0" y="2827.3">Litchi_GLEAN_10011396 Protein WALLS ARE THIN 1</text>
<text x="1208.0" y="2858.3">Litchi_GLEAN_10029789 Dof zinc finger protein DOF3.4</text>
<text x="1208.0" y="2889.3">Litchi_GLEAN_10022829 Probable auxin efflux carrier component 1c</text>
<text x="1208.0" y="2920.4">Litchi_GLEAN_10002037 Auxin-responsive protein IAA16</text>
<text x="1208.0" y="2951.4">Litchi_GLEAN_10003458 Auxin-responsive protein IAA16</text>
<text x="1208.0" y="2982.5">Litchi_GLEAN_10028952 Auxin-responsive protein IAA13</text>
<text x="1208.0" y="3013.5">Litchi_GLEAN_10030207 Auxin-responsive protein IAA9</text>
<text x="1208.0" y="3044.6">Litchi_GLEAN_10035463 Auxin-responsive protein IAA27</text>
<text x="1208.0" y="3075.6">Litchi_GLEAN_10038607 Transport inhibitor response 1-like protein Os04g0395600</text>
<text x="1208.0" y="3106.7">Litchi_GLEAN_10009463 Auxin-responsive protein IAA9</text>
<text x="1208.0" y="3137.7">Litchi_GLEAN_10023246 Homeobox-leucine zipper protein ATHB-20</text>
<text x="1208.0" y="3168.7">Litchi_GLEAN_10020925 Protein WALLS ARE THIN 1</text>
<text x="1208.0" y="3199.8">Litchi_GLEAN_10024635 Transcription factor PIF4</text>
</g>
<g font-size="36" text-anchor="middle">
<text x="262.0" y="3242.7">SLE1</text>
<text x="385.0" y="3242.7">SLE2</text>
<text x="515.0" y="3242.7">SLL1</text>
<text x="635.0" y="3242.7">SLL2</text>
<text x="763.4" y="3242.7">DLL1</text>
<text x="881.6" y="3242.7">DLL2</text>
<text x="1004.7" y="3242.7">DLE1</text>
<text x="1129.0" y="3242.7">DLE2</text>
</g>
<defs><linearGradient id="cb2" x1="0" y1="0" x2="0" y2="1"><stop offset="0" stop-color="#ff0000"/><stop offset="0.09" stop-color="#ff0000"/><stop offset="0.5" stop-color="#000000"/><stop offset="0.75" stop-color="#007300"/><stop offset="1" stop-color="#00f500"/></linearGradient></defs>
<rect x="2035.7" y="1218.8" width="30.8" height="466.1" fill="url(#cb2)"/>
<g font-size="20.5">
<text x="2080.5" y="1231.3">2</text>
<text x="2080.5" y="1345.3">1</text>
<text x="2080.5" y="1460.7">0</text>
<text x="2080.5" y="1575.9">-1</text>
<text x="2080.5" y="1691.1">-2</text>
</g>
<text x="139.0" y="3454.0" class="pl" font-size="95">C</text>
<path d="M202.0 3624.3H178.2V3655.4H202.0M202.0 3593.2H168.2V3639.9H178.2M202.0 3562.2H162.0V3616.6H168.2M202.0 3686.5H177.7V3717.7H202.0M202.0 3748.8H188.5V3779.8H202.0M202.0 3810.9H186.3V3842.1H202.0M188.5 3764.3H169.9V3826.5H186.3M177.7 3702.1H145.6V3795.4H169.9M162.0 3589.4H121.1V3748.8H145.6M202.0 3904.2H173.9V3935.3H202.0M202.0 3966.4H163.5V3997.6H202.0M173.9 3919.8H149.6V3982.0H163.5M202.0 4090.8H178.2V4121.9H202.0M202.0 4059.8H161.8V4106.4H178.2M202.0 4028.7H147.5V4083.1H161.8M149.6 3950.9H122.8V4055.9H147.5M202.0 3873.2H110.6V4003.4H122.8M121.1 3669.1H39.3V3938.3H110.6" fill="none" stroke="#000" stroke-width="1.8" stroke-linejoin="miter" stroke-linecap="square"/>
<path d="M264.1 3546.6V3521.6H388.3V3546.6M512.5 3546.6V3507.0H636.7V3546.6M760.8 3546.6V3507.8H885.0V3546.6M1009.2 3546.6V3496.0H1133.4V3546.6M326.2 3521.6V3476.5H574.6V3507.0M822.9 3507.8V3461.0H1071.3V3496.0M450.4 3476.5V3384.0H947.1V3461.0" fill="none" stroke="#000" stroke-width="1.8" stroke-linecap="square"/>
<g shape-rendering="crispEdges">
<rect x="202.00" y="3546.60" width="124.79" height="31.70" fill="#003800"/>
<rect x="326.19" y="3546.60" width="124.79" height="31.70" fill="#003800"/>
<rect x="450.38" y="3546.60" width="124.79" height="31.70" fill="#003400"/>
<rect x="574.56" y="3546.60" width="124.79" height="31.70" fill="#003400"/>
<rect x="698.75" y="3546.60" width="124.79" height="31.70" fill="#a40000"/>
<rect x="822.94" y="3546.60" width="124.79" height="31.70" fill="#f60000"/>
<rect x="947.12" y="3546.60" width="124.79" height="31.70" fill="#003400"/>
<rect x="1071.31" y="3546.60" width="124.79" height="31.70" fill="#003800"/>
<rect x="202.00" y="3577.70" width="124.79" height="31.70" fill="#007a00"/>
<rect x="326.19" y="3577.70" width="124.79" height="31.70" fill="#007600"/>
<rect x="450.38" y="3577.70" width="124.79" height="31.70" fill="#004600"/>
<rect x="574.56" y="3577.70" width="124.79" height="31.70" fill="#000500"/>
<rect x="698.75" y="3577.70" width="124.79" height="31.70" fill="#f60000"/>
<rect x="822.94" y="3577.70" width="124.79" height="31.70" fill="#c50000"/>
<rect x="947.12" y="3577.70" width="124.79" height="31.70" fill="#000000"/>
<rect x="1071.31" y="3577.70" width="124.79" height="31.70" fill="#002a00"/>
<rect x="202.00" y="3608.80" width="124.79" height="31.70" fill="#006300"/>
<rect x="326.19" y="3608.80" width="124.79" height="31.70" fill="#003800"/>
<rect x="450.38" y="3608.80" width="124.79" height="31.70" fill="#008400"/>
<rect x="574.56" y="3608.80" width="124.79" height="31.70" fill="#006300"/>
<rect x="698.75" y="3608.80" width="124.79" height="31.70" fill="#cf0000"/>
<rect x="822.94" y="3608.80" width="124.79" height="31.70" fill="#dd0000"/>
<rect x="947.12" y="3608.80" width="124.79" height="31.70" fill="#000000"/>
<rect x="1071.31" y="3608.80" width="124.79" height="31.70" fill="#000000"/>
<rect x="202.00" y="3639.90" width="124.79" height="31.70" fill="#004b00"/>
<rect x="326.19" y="3639.90" width="124.79" height="31.70" fill="#006300"/>
<rect x="450.38" y="3639.90" width="124.79" height="31.70" fill="#006700"/>
<rect x="574.56" y="3639.90" width="124.79" height="31.70" fill="#004200"/>
<rect x="698.75" y="3639.90" width="124.79" height="31.70" fill="#d40000"/>
<rect x="822.94" y="3639.90" width="124.79" height="31.70" fill="#f60000"/>
<rect x="947.12" y="3639.90" width="124.79" height="31.70" fill="#000e00"/>
<rect x="1071.31" y="3639.90" width="124.79" height="31.70" fill="#003400"/>
<rect x="202.00" y="3671.00" width="124.79" height="31.70" fill="#005000"/>
<rect x="326.19" y="3671.00" width="124.79" height="31.70" fill="#006c00"/>
<rect x="450.38" y="3671.00" width="124.79" height="31.70" fill="#006c00"/>
<rect x="574.56" y="3671.00" width="124.79" height="31.70" fill="#007100"/>
<rect x="698.75" y="3671.00" width="124.79" height="31.70" fill="#ff0000"/>
<rect x="822.94" y="3671.00" width="124.79" height="31.70" fill="#3d0000"/>
<rect x="947.12" y="3671.00" width="124.79" height="31.70" fill="#210000"/>
<rect x="1071.31" y="3671.00" width="124.79" height="31.70" fill="#670000"/>
<rect x="202.00" y="3702.10" width="124.79" height="31.70" fill="#007600"/>
<rect x="326.19" y="3702.10" width="124.79" height="31.70" fill="#006300"/>
<rect x="450.38" y="3702.10" width="124.79" height="31.70" fill="#005500"/>
<rect x="574.56" y="3702.10" width="124.79" height="31.70" fill="#007f00"/>
<rect x="698.75" y="3702.10" width="124.79" height="31.70" fill="#d40000"/>
<rect x="822.94" y="3702.10" width="124.79" height="31.70" fill="#840000"/>
<rect x="947.12" y="3702.10" width="124.79" height="31.70" fill="#2f0000"/>
<rect x="1071.31" y="3702.10" width="124.79" height="31.70" fill="#670000"/>
<rect x="202.00" y="3733.20" width="124.79" height="31.70" fill="#008800"/>
<rect x="326.19" y="3733.20" width="124.79" height="31.70" fill="#006300"/>
<rect x="450.38" y="3733.20" width="124.79" height="31.70" fill="#006700"/>
<rect x="574.56" y="3733.20" width="124.79" height="31.70" fill="#005900"/>
<rect x="698.75" y="3733.20" width="124.79" height="31.70" fill="#cf0000"/>
<rect x="822.94" y="3733.20" width="124.79" height="31.70" fill="#460000"/>
<rect x="947.12" y="3733.20" width="124.79" height="31.70" fill="#b70000"/>
<rect x="1071.31" y="3733.20" width="124.79" height="31.70" fill="#2a0000"/>
<rect x="202.00" y="3764.30" width="124.79" height="31.70" fill="#007100"/>
<rect x="326.19" y="3764.30" width="124.79" height="31.70" fill="#006700"/>
<rect x="450.38" y="3764.30" width="124.79" height="31.70" fill="#007100"/>
<rect x="574.56" y="3764.30" width="124.79" height="31.70" fill="#006700"/>
<rect x="698.75" y="3764.30" width="124.79" height="31.70" fill="#ca0000"/>
<rect x="822.94" y="3764.30" width="124.79" height="31.70" fill="#590000"/>
<rect x="947.12" y="3764.30" width="124.79" height="31.70" fill="#ae0000"/>
<rect x="1071.31" y="3764.30" width="124.79" height="31.70" fill="#500000"/>
<rect x="202.00" y="3795.40" width="124.79" height="31.70" fill="#004200"/>
<rect x="326.19" y="3795.40" width="124.79" height="31.70" fill="#006c00"/>
<rect x="450.38" y="3795.40" width="124.79" height="31.70" fill="#009600"/>
<rect x="574.56" y="3795.40" width="124.79" height="31.70" fill="#005e00"/>
<rect x="698.75" y="3795.40" width="124.79" height="31.70" fill="#9b0000"/>
<rect x="822.94" y="3795.40" width="124.79" height="31.70" fill="#880000"/>
<rect x="947.12" y="3795.40" width="124.79" height="31.70" fill="#d40000"/>
<rect x="1071.31" y="3795.40" width="124.79" height="31.70" fill="#000000"/>
<rect x="202.00" y="3826.50" width="124.79" height="31.70" fill="#005e00"/>
<rect x="326.19" y="3826.50" width="124.79" height="31.70" fill="#005000"/>
<rect x="450.38" y="3826.50" width="124.79" height="31.70" fill="#009200"/>
<rect x="574.56" y="3826.50" width="124.79" height="31.70" fill="#006c00"/>
<rect x="698.75" y="3826.50" width="124.79" height="31.70" fill="#960000"/>
<rect x="822.94" y="3826.50" width="124.79" height="31.70" fill="#840000"/>
<rect x="947.12" y="3826.50" width="124.79" height="31.70" fill="#bc0000"/>
<rect x="1071.31" y="3826.50" width="124.79" height="31.70" fill="#180000"/>
<rect x="202.00" y="3857.60" width="124.79" height="31.70" fill="#880000"/>
<rect x="326.19" y="3857.60" width="124.79" height="31.70" fill="#630000"/>
<rect x="450.38" y="3857.60" width="124.79" height="31.70" fill="#5e0000"/>
<rect x="574.56" y="3857.60" width="124.79" height="31.70" fill="#180000"/>
<rect x="698.75" y="3857.60" width="124.79" height="31.70" fill="#00f600"/>
<rect x="822.94" y="3857.60" width="124.79" height="31.70" fill="#008800"/>
<rect x="947.12" y="3857.60" width="124.79" height="31.70" fill="#000000"/>
<rect x="1071.31" y="3857.60" width="124.79" height="31.70" fill="#5e0000"/>
<rect x="202.00" y="3888.70" width="124.79" height="31.70" fill="#3d0000"/>
<rect x="326.19" y="3888.70" width="124.79" height="31.70" fill="#460000"/>
<rect x="450.38" y="3888.70" width="124.79" height="31.70" fill="#b30000"/>
<rect x="574.56" y="3888.70" width="124.79" height="31.70" fill="#ca0000"/>
<rect x="698.75" y="3888.70" width="124.79" height="31.70" fill="#007600"/>
<rect x="822.94" y="3888.70" width="124.79" height="31.70" fill="#007f00"/>
<rect x="947.12" y="3888.70" width="124.79" height="31.70" fill="#007100"/>
<rect x="1071.31" y="3888.70" width="124.79" height="31.70" fill="#007a00"/>
<rect x="202.00" y="3919.80" width="124.79" height="31.70" fill="#2f0000"/>
<rect x="326.19" y="3919.80" width="124.79" height="31.70" fill="#710000"/>
<rect x="450.38" y="3919.80" width="124.79" height="31.70" fill="#5e0000"/>
<rect x="574.56" y="3919.80" width="124.79" height="31.70" fill="#f60000"/>
<rect x="698.75" y="3919.80" width="124.79" height="31.70" fill="#005500"/>
<rect x="822.94" y="3919.80" width="124.79" height="31.70" fill="#006c00"/>
<rect x="947.12" y="3919.80" width="124.79" height="31.70" fill="#009b00"/>
<rect x="1071.31" y="3919.80" width="124.79" height="31.70" fill="#004600"/>
<rect x="202.00" y="3950.90" width="124.79" height="31.70" fill="#760000"/>
<rect x="326.19" y="3950.90" width="124.79" height="31.70" fill="#ca0000"/>
<rect x="450.38" y="3950.90" width="124.79" height="31.70" fill="#590000"/>
<rect x="574.56" y="3950.90" width="124.79" height="31.70" fill="#7f0000"/>
<rect x="698.75" y="3950.90" width="124.79" height="31.70" fill="#008400"/>
<rect x="822.94" y="3950.90" width="124.79" height="31.70" fill="#006c00"/>
<rect x="947.12" y="3950.90" width="124.79" height="31.70" fill="#00a000"/>
<rect x="1071.31" y="3950.90" width="124.79" height="31.70" fill="#002a00"/>
<rect x="202.00" y="3982.00" width="124.79" height="31.70" fill="#420000"/>
<rect x="326.19" y="3982.00" width="124.79" height="31.70" fill="#a40000"/>
<rect x="450.38" y="3982.00" width="124.79" height="31.70" fill="#d40000"/>
<rect x="574.56" y="3982.00" width="124.79" height="31.70" fill="#460000"/>
<rect x="698.75" y="3982.00" width="124.79" height="31.70" fill="#009200"/>
<rect x="822.94" y="3982.00" width="124.79" height="31.70" fill="#007100"/>
<rect x="947.12" y="3982.00" width="124.79" height="31.70" fill="#007a00"/>
<rect x="1071.31" y="3982.00" width="124.79" height="31.70" fill="#002f00"/>
<rect x="202.00" y="4013.10" width="124.79" height="31.70" fill="#001300"/>
<rect x="326.19" y="4013.10" width="124.79" height="31.70" fill="#000000"/>
<rect x="450.38" y="4013.10" width="124.79" height="31.70" fill="#ff0000"/>
<rect x="574.56" y="4013.10" width="124.79" height="31.70" fill="#5e0000"/>
<rect x="698.75" y="4013.10" width="124.79" height="31.70" fill="#005e00"/>
<rect x="822.94" y="4013.10" width="124.79" height="31.70" fill="#005500"/>
<rect x="947.12" y="4013.10" width="124.79" height="31.70" fill="#00a000"/>
<rect x="1071.31" y="4013.10" width="124.79" height="31.70" fill="#180000"/>
<rect x="202.00" y="4044.20" width="124.79" height="31.70" fill="#0e0000"/>
<rect x="326.19" y="4044.20" width="124.79" height="31.70" fill="#004b00"/>
<rect x="450.38" y="4044.20" width="124.79" height="31.70" fill="#ff0000"/>
<rect x="574.56" y="4044.20" width="124.79" height="31.70" fill="#ae0000"/>
<rect x="698.75" y="4044.20" width="124.79" height="31.70" fill="#005900"/>
<rect x="822.94" y="4044.20" width="124.79" height="31.70" fill="#005000"/>
<rect x="947.12" y="4044.20" width="124.79" height="31.70" fill="#005500"/>
<rect x="1071.31" y="4044.20" width="124.79" height="31.70" fill="#005500"/>
<rect x="202.00" y="4075.30" width="124.79" height="31.70" fill="#003d00"/>
<rect x="326.19" y="4075.30" width="124.79" height="31.70" fill="#0e0000"/>
<rect x="450.38" y="4075.30" width="124.79" height="31.70" fill="#ae0000"/>
<rect x="574.56" y="4075.30" width="124.79" height="31.70" fill="#f60000"/>
<rect x="698.75" y="4075.30" width="124.79" height="31.70" fill="#007100"/>
<rect x="822.94" y="4075.30" width="124.79" height="31.70" fill="#005000"/>
<rect x="947.12" y="4075.30" width="124.79" height="31.70" fill="#005000"/>
<rect x="1071.31" y="4075.30" width="124.79" height="31.70" fill="#005000"/>
<rect x="202.00" y="4106.40" width="124.79" height="31.70" fill="#002a00"/>
<rect x="326.19" y="4106.40" width="124.79" height="31.70" fill="#210000"/>
<rect x="450.38" y="4106.40" width="124.79" height="31.70" fill="#ee0000"/>
<rect x="574.56" y="4106.40" width="124.79" height="31.70" fill="#c50000"/>
<rect x="698.75" y="4106.40" width="124.79" height="31.70" fill="#005500"/>
<rect x="822.94" y="4106.40" width="124.79" height="31.70" fill="#006c00"/>
<rect x="947.12" y="4106.40" width="124.79" height="31.70" fill="#006c00"/>
<rect x="1071.31" y="4106.40" width="124.79" height="31.70" fill="#007600"/>
</g>
<g font-size="21.7" class="rl">
<text x="1205.4" y="3571.2">A60194 Auxin response factor 1</text>
<text x="1205.4" y="3602.3">Litchi_GLEAN_10016848 Actin-7</text>
<text x="1205.4" y="3633.4">Litchi_GLEAN_10026045 Guanine nucleotide exchange factor SPIKE 1</text>
<text x="1205.4" y="3664.5">Litchi_GLEAN_10028098 187-kDa microtubule-associated protein AIR9</text>
<text x="1205.4" y="3695.6">AT4G29080.1 Auxin-responsive protein IAA27</text>
<text x="1205.4" y="3726.7">Litchi_GLEAN_10037985 Prohibitin-3, mitochondrial</text>
<text x="1205.4" y="3757.8">Litchi_GLEAN_10014293 VAN3-binding protein</text>
<text x="1205.4" y="3788.9">Litchi_GLEAN_10033744 HVA22-like protein c</text>
<text x="1205.4" y="3820.0">Litchi_GLEAN_10011665 Nuclear pore complex protein NUP96</text>
<text x="1205.4" y="3851.1">Litchi_GLEAN_10020217 Phosphoribosylaminoimidazole-succinocarboxamide synthase, chloroplastic</text>
<text x="1205.4" y="3882.2">Litchi_GLEAN_10013128 Xyloglucan endotransglucosylase/hydrolase protein 22</text>
<text x="1205.4" y="3913.3">A67418 Auxin-responsive protein IAA15</text>
<text x="1205.4" y="3944.4">Litchi_GLEAN_10009908 Enhancer of mRNA-decapping protein 4</text>
<text x="1205.4" y="3975.5">Csa014979-D3 Protein TRANSPARENT TESTA GLABRA 1</text>
<text x="1205.4" y="4006.6">Litchi_GLEAN_10005906 Protein-tyrosine-phosphatase IBR5</text>
<text x="1205.4" y="4037.7">Litchi_GLEAN_10031273 F-box protein SKP2A</text>
<text x="1205.4" y="4068.8">POPTR_0014s03920.1 Type IV inositol polyphosphate 5-phosphatase 11</text>
<text x="1205.4" y="4099.9">Litchi_GLEAN_10025175 Calcium-binding protein PBP1</text>
<text x="1205.4" y="4131.0">POPTR_0002s13100.2 Dof zinc finger protein DOF3.4</text>
</g>
<g font-size="36" text-anchor="middle">
<text x="262.5" y="4173.5">SLE1</text>
<text x="385.5" y="4173.5">SLE2</text>
<text x="515.5" y="4173.5">SLL1</text>
<text x="635.5" y="4173.5">SLL2</text>
<text x="763.9" y="4173.5">DLL1</text>
<text x="882.1" y="4173.5">DLL2</text>
<text x="1005.2" y="4173.5">DLE1</text>
<text x="1129.5" y="4173.5">DLE2</text>
</g>
<defs><linearGradient id="cb3" x1="0" y1="0" x2="0" y2="1"><stop offset="0" stop-color="#ff0000"/><stop offset="0.09" stop-color="#ff0000"/><stop offset="0.5" stop-color="#000000"/><stop offset="0.75" stop-color="#007300"/><stop offset="1" stop-color="#00f500"/></linearGradient></defs>
<rect x="2208.3" y="3546.7" width="31.8" height="466.3" fill="url(#cb3)"/>
<g font-size="20.5">
<text x="2252.3" y="3560.3">2</text>
<text x="2252.3" y="3674.5">1</text>
<text x="2252.3" y="3789.8">0</text>
<text x="2252.3" y="3904.0">-1</text>
<text x="2252.3" y="4019.3">-2</text>
</g>
</svg>
</body></html>
